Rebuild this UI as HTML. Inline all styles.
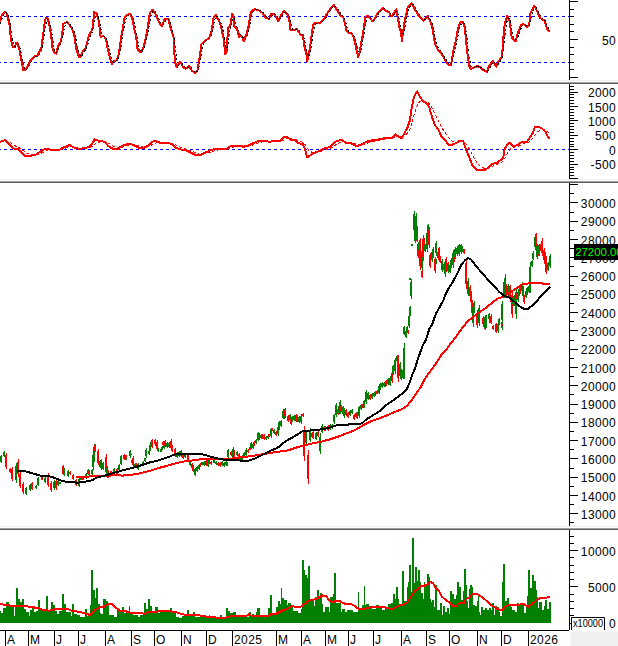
<!DOCTYPE html>
<html><head><meta charset="utf-8"><style>
html,body{margin:0;padding:0;background:#fff;overflow:hidden;}
svg{display:block;}
</style></head><body>
<svg width="618" height="646" viewBox="0 0 618 646">
<rect x="0" y="0" width="618" height="646" fill="#fff"/>
<rect x="0" y="80" width="618" height="1" fill="#f0f0f0"/>
<rect x="0" y="82" width="618" height="1" fill="#a0a0a0"/>
<rect x="0" y="83" width="618" height="1" fill="#5e5e5e"/>
<rect x="0" y="179" width="618" height="1" fill="#f0f0f0"/>
<rect x="0" y="181" width="618" height="1" fill="#a0a0a0"/>
<rect x="0" y="182" width="618" height="1" fill="#5e5e5e"/>
<rect x="0" y="526" width="618" height="1" fill="#f0f0f0"/>
<rect x="0" y="528" width="618" height="1" fill="#a0a0a0"/>
<rect x="0" y="529" width="618" height="1" fill="#5e5e5e"/>
<rect x="569" y="631" width="49" height="15" fill="#f7f7f7"/>
<rect x="571" y="632" width="47" height="14" fill="#efefef"/>
<rect x="569" y="0" width="1" height="80" fill="#000"/>
<rect x="569" y="84" width="1" height="95" fill="#000"/>
<rect x="569" y="183" width="1" height="343" fill="#000"/>
<rect x="569" y="530" width="1" height="100" fill="#000"/>
<rect x="0" y="630" width="569" height="1" fill="#000"/>
<rect x="570" y="77" width="8" height="1" fill="#000"/>
<rect x="570" y="69" width="4" height="1" fill="#000"/>
<rect x="570" y="62" width="4" height="1" fill="#000"/>
<rect x="570" y="54" width="4" height="1" fill="#000"/>
<rect x="570" y="47" width="4" height="1" fill="#000"/>
<rect x="570" y="39" width="8" height="1" fill="#000"/>
<rect x="570" y="31" width="4" height="1" fill="#000"/>
<rect x="570" y="24" width="4" height="1" fill="#000"/>
<rect x="570" y="16" width="4" height="1" fill="#000"/>
<rect x="570" y="9" width="4" height="1" fill="#000"/>
<rect x="570" y="1" width="8" height="1" fill="#000"/>
<rect x="570" y="178" width="8" height="1" fill="#000"/>
<rect x="570" y="175" width="4" height="1" fill="#000"/>
<rect x="570" y="172" width="4" height="1" fill="#000"/>
<rect x="570" y="169" width="4" height="1" fill="#000"/>
<rect x="570" y="167" width="4" height="1" fill="#000"/>
<rect x="570" y="164" width="8" height="1" fill="#000"/>
<rect x="570" y="161" width="4" height="1" fill="#000"/>
<rect x="570" y="158" width="4" height="1" fill="#000"/>
<rect x="570" y="155" width="4" height="1" fill="#000"/>
<rect x="570" y="152" width="4" height="1" fill="#000"/>
<rect x="570" y="149" width="8" height="1" fill="#000"/>
<rect x="570" y="146" width="4" height="1" fill="#000"/>
<rect x="570" y="144" width="4" height="1" fill="#000"/>
<rect x="570" y="141" width="4" height="1" fill="#000"/>
<rect x="570" y="138" width="4" height="1" fill="#000"/>
<rect x="570" y="135" width="8" height="1" fill="#000"/>
<rect x="570" y="132" width="4" height="1" fill="#000"/>
<rect x="570" y="129" width="4" height="1" fill="#000"/>
<rect x="570" y="126" width="4" height="1" fill="#000"/>
<rect x="570" y="123" width="4" height="1" fill="#000"/>
<rect x="570" y="120" width="8" height="1" fill="#000"/>
<rect x="570" y="118" width="4" height="1" fill="#000"/>
<rect x="570" y="115" width="4" height="1" fill="#000"/>
<rect x="570" y="112" width="4" height="1" fill="#000"/>
<rect x="570" y="109" width="4" height="1" fill="#000"/>
<rect x="570" y="106" width="8" height="1" fill="#000"/>
<rect x="570" y="103" width="4" height="1" fill="#000"/>
<rect x="570" y="100" width="4" height="1" fill="#000"/>
<rect x="570" y="97" width="4" height="1" fill="#000"/>
<rect x="570" y="94" width="4" height="1" fill="#000"/>
<rect x="570" y="92" width="8" height="1" fill="#000"/>
<rect x="570" y="89" width="4" height="1" fill="#000"/>
<rect x="570" y="86" width="4" height="1" fill="#000"/>
<rect x="570" y="184" width="8" height="1" fill="#000"/>
<rect x="570" y="193" width="4" height="1" fill="#000"/>
<rect x="570" y="202" width="8" height="1" fill="#000"/>
<rect x="570" y="212" width="4" height="1" fill="#000"/>
<rect x="570" y="221" width="8" height="1" fill="#000"/>
<rect x="570" y="230" width="4" height="1" fill="#000"/>
<rect x="570" y="239" width="8" height="1" fill="#000"/>
<rect x="570" y="248" width="4" height="1" fill="#000"/>
<rect x="570" y="257" width="8" height="1" fill="#000"/>
<rect x="570" y="266" width="4" height="1" fill="#000"/>
<rect x="570" y="276" width="8" height="1" fill="#000"/>
<rect x="570" y="285" width="4" height="1" fill="#000"/>
<rect x="570" y="294" width="8" height="1" fill="#000"/>
<rect x="570" y="303" width="4" height="1" fill="#000"/>
<rect x="570" y="312" width="8" height="1" fill="#000"/>
<rect x="570" y="321" width="4" height="1" fill="#000"/>
<rect x="570" y="330" width="8" height="1" fill="#000"/>
<rect x="570" y="340" width="4" height="1" fill="#000"/>
<rect x="570" y="349" width="8" height="1" fill="#000"/>
<rect x="570" y="358" width="4" height="1" fill="#000"/>
<rect x="570" y="367" width="8" height="1" fill="#000"/>
<rect x="570" y="376" width="4" height="1" fill="#000"/>
<rect x="570" y="385" width="8" height="1" fill="#000"/>
<rect x="570" y="394" width="4" height="1" fill="#000"/>
<rect x="570" y="404" width="8" height="1" fill="#000"/>
<rect x="570" y="413" width="4" height="1" fill="#000"/>
<rect x="570" y="422" width="8" height="1" fill="#000"/>
<rect x="570" y="431" width="4" height="1" fill="#000"/>
<rect x="570" y="440" width="8" height="1" fill="#000"/>
<rect x="570" y="449" width="4" height="1" fill="#000"/>
<rect x="570" y="458" width="8" height="1" fill="#000"/>
<rect x="570" y="468" width="4" height="1" fill="#000"/>
<rect x="570" y="477" width="8" height="1" fill="#000"/>
<rect x="570" y="486" width="4" height="1" fill="#000"/>
<rect x="570" y="495" width="8" height="1" fill="#000"/>
<rect x="570" y="504" width="4" height="1" fill="#000"/>
<rect x="570" y="513" width="8" height="1" fill="#000"/>
<rect x="570" y="522" width="4" height="1" fill="#000"/>
<rect x="570" y="623" width="8" height="1" fill="#000"/>
<rect x="570" y="615" width="4" height="1" fill="#000"/>
<rect x="570" y="608" width="4" height="1" fill="#000"/>
<rect x="570" y="601" width="4" height="1" fill="#000"/>
<rect x="570" y="594" width="4" height="1" fill="#000"/>
<rect x="570" y="586" width="8" height="1" fill="#000"/>
<rect x="570" y="579" width="4" height="1" fill="#000"/>
<rect x="570" y="572" width="4" height="1" fill="#000"/>
<rect x="570" y="565" width="4" height="1" fill="#000"/>
<rect x="570" y="557" width="4" height="1" fill="#000"/>
<rect x="570" y="550" width="8" height="1" fill="#000"/>
<rect x="570" y="543" width="4" height="1" fill="#000"/>
<rect x="570" y="536" width="4" height="1" fill="#000"/>
<text x="616.2" y="44.5" text-anchor="end" font-family="Liberation Sans, sans-serif" font-size="12" letter-spacing="0.4" fill="#000">50</text>
<text x="616.2" y="97.1" text-anchor="end" font-family="Liberation Sans, sans-serif" font-size="12" letter-spacing="0.4" fill="#000">2000</text>
<text x="616.2" y="111.5" text-anchor="end" font-family="Liberation Sans, sans-serif" font-size="12" letter-spacing="0.4" fill="#000">1500</text>
<text x="616.2" y="126.0" text-anchor="end" font-family="Liberation Sans, sans-serif" font-size="12" letter-spacing="0.4" fill="#000">1000</text>
<text x="616.2" y="140.4" text-anchor="end" font-family="Liberation Sans, sans-serif" font-size="12" letter-spacing="0.4" fill="#000">500</text>
<text x="616.2" y="154.8" text-anchor="end" font-family="Liberation Sans, sans-serif" font-size="12" letter-spacing="0.4" fill="#000">0</text>
<text x="616.2" y="169.2" text-anchor="end" font-family="Liberation Sans, sans-serif" font-size="12" letter-spacing="0.4" fill="#000">-500</text>
<text x="616.2" y="207.9" text-anchor="end" font-family="Liberation Sans, sans-serif" font-size="12" letter-spacing="0.4" fill="#000">30000</text>
<text x="616.2" y="226.2" text-anchor="end" font-family="Liberation Sans, sans-serif" font-size="12" letter-spacing="0.4" fill="#000">29000</text>
<text x="616.2" y="244.5" text-anchor="end" font-family="Liberation Sans, sans-serif" font-size="12" letter-spacing="0.4" fill="#000">28000</text>
<text x="616.2" y="262.8" text-anchor="end" font-family="Liberation Sans, sans-serif" font-size="12" letter-spacing="0.4" fill="#000">27000</text>
<text x="616.2" y="281.1" text-anchor="end" font-family="Liberation Sans, sans-serif" font-size="12" letter-spacing="0.4" fill="#000">26000</text>
<text x="616.2" y="299.4" text-anchor="end" font-family="Liberation Sans, sans-serif" font-size="12" letter-spacing="0.4" fill="#000">25000</text>
<text x="616.2" y="317.6" text-anchor="end" font-family="Liberation Sans, sans-serif" font-size="12" letter-spacing="0.4" fill="#000">24000</text>
<text x="616.2" y="335.9" text-anchor="end" font-family="Liberation Sans, sans-serif" font-size="12" letter-spacing="0.4" fill="#000">23000</text>
<text x="616.2" y="354.2" text-anchor="end" font-family="Liberation Sans, sans-serif" font-size="12" letter-spacing="0.4" fill="#000">22000</text>
<text x="616.2" y="372.5" text-anchor="end" font-family="Liberation Sans, sans-serif" font-size="12" letter-spacing="0.4" fill="#000">21000</text>
<text x="616.2" y="390.8" text-anchor="end" font-family="Liberation Sans, sans-serif" font-size="12" letter-spacing="0.4" fill="#000">20000</text>
<text x="616.2" y="409.1" text-anchor="end" font-family="Liberation Sans, sans-serif" font-size="12" letter-spacing="0.4" fill="#000">19000</text>
<text x="616.2" y="427.4" text-anchor="end" font-family="Liberation Sans, sans-serif" font-size="12" letter-spacing="0.4" fill="#000">18000</text>
<text x="616.2" y="445.7" text-anchor="end" font-family="Liberation Sans, sans-serif" font-size="12" letter-spacing="0.4" fill="#000">17000</text>
<text x="616.2" y="464.0" text-anchor="end" font-family="Liberation Sans, sans-serif" font-size="12" letter-spacing="0.4" fill="#000">16000</text>
<text x="616.2" y="482.2" text-anchor="end" font-family="Liberation Sans, sans-serif" font-size="12" letter-spacing="0.4" fill="#000">15000</text>
<text x="616.2" y="500.5" text-anchor="end" font-family="Liberation Sans, sans-serif" font-size="12" letter-spacing="0.4" fill="#000">14000</text>
<text x="616.2" y="518.8" text-anchor="end" font-family="Liberation Sans, sans-serif" font-size="12" letter-spacing="0.4" fill="#000">13000</text>
<text x="616.2" y="555.6" text-anchor="end" font-family="Liberation Sans, sans-serif" font-size="12" letter-spacing="0.4" fill="#000">10000</text>
<text x="616.2" y="591.9" text-anchor="end" font-family="Liberation Sans, sans-serif" font-size="12" letter-spacing="0.4" fill="#000">5000</text>
<rect x="5" y="630" width="1" height="16" fill="#000"/>
<text x="7" y="644" font-family="Liberation Sans, sans-serif" font-size="12" letter-spacing="0.4" fill="#000">A</text>
<rect x="28" y="630" width="1" height="16" fill="#000"/>
<text x="30" y="644" font-family="Liberation Sans, sans-serif" font-size="12" letter-spacing="0.4" fill="#000">M</text>
<rect x="54" y="630" width="1" height="16" fill="#000"/>
<text x="56" y="644" font-family="Liberation Sans, sans-serif" font-size="12" letter-spacing="0.4" fill="#000">J</text>
<rect x="78" y="630" width="1" height="16" fill="#000"/>
<text x="80" y="644" font-family="Liberation Sans, sans-serif" font-size="12" letter-spacing="0.4" fill="#000">J</text>
<rect x="105" y="630" width="1" height="16" fill="#000"/>
<text x="107" y="644" font-family="Liberation Sans, sans-serif" font-size="12" letter-spacing="0.4" fill="#000">A</text>
<rect x="131" y="630" width="1" height="16" fill="#000"/>
<text x="133" y="644" font-family="Liberation Sans, sans-serif" font-size="12" letter-spacing="0.4" fill="#000">S</text>
<rect x="154" y="630" width="1" height="16" fill="#000"/>
<text x="156" y="644" font-family="Liberation Sans, sans-serif" font-size="12" letter-spacing="0.4" fill="#000">O</text>
<rect x="181" y="630" width="1" height="16" fill="#000"/>
<text x="183" y="644" font-family="Liberation Sans, sans-serif" font-size="12" letter-spacing="0.4" fill="#000">N</text>
<rect x="206" y="630" width="1" height="16" fill="#000"/>
<text x="208" y="644" font-family="Liberation Sans, sans-serif" font-size="12" letter-spacing="0.4" fill="#000">D</text>
<rect x="232" y="630" width="1" height="16" fill="#000"/>
<text x="234" y="644" font-family="Liberation Sans, sans-serif" font-size="12" letter-spacing="0.4" fill="#000">2025</text>
<rect x="276" y="630" width="1" height="16" fill="#000"/>
<text x="278" y="644" font-family="Liberation Sans, sans-serif" font-size="12" letter-spacing="0.4" fill="#000">M</text>
<rect x="301" y="630" width="1" height="16" fill="#000"/>
<text x="303" y="644" font-family="Liberation Sans, sans-serif" font-size="12" letter-spacing="0.4" fill="#000">A</text>
<rect x="325" y="630" width="1" height="16" fill="#000"/>
<text x="327" y="644" font-family="Liberation Sans, sans-serif" font-size="12" letter-spacing="0.4" fill="#000">M</text>
<rect x="348" y="630" width="1" height="16" fill="#000"/>
<text x="350" y="644" font-family="Liberation Sans, sans-serif" font-size="12" letter-spacing="0.4" fill="#000">J</text>
<rect x="373" y="630" width="1" height="16" fill="#000"/>
<text x="375" y="644" font-family="Liberation Sans, sans-serif" font-size="12" letter-spacing="0.4" fill="#000">J</text>
<rect x="401" y="630" width="1" height="16" fill="#000"/>
<text x="403" y="644" font-family="Liberation Sans, sans-serif" font-size="12" letter-spacing="0.4" fill="#000">A</text>
<rect x="426" y="630" width="1" height="16" fill="#000"/>
<text x="428" y="644" font-family="Liberation Sans, sans-serif" font-size="12" letter-spacing="0.4" fill="#000">S</text>
<rect x="449" y="630" width="1" height="16" fill="#000"/>
<text x="451" y="644" font-family="Liberation Sans, sans-serif" font-size="12" letter-spacing="0.4" fill="#000">O</text>
<rect x="477" y="630" width="1" height="16" fill="#000"/>
<text x="479" y="644" font-family="Liberation Sans, sans-serif" font-size="12" letter-spacing="0.4" fill="#000">N</text>
<rect x="501" y="630" width="1" height="16" fill="#000"/>
<text x="503" y="644" font-family="Liberation Sans, sans-serif" font-size="12" letter-spacing="0.4" fill="#000">D</text>
<rect x="528" y="630" width="1" height="16" fill="#000"/>
<text x="530" y="644" font-family="Liberation Sans, sans-serif" font-size="12" letter-spacing="0.4" fill="#000">2026</text>
<svg x="0" y="0" width="569" height="80" overflow="hidden">
<line x1="0" y1="16.5" x2="569" y2="16.5" stroke="#0000ff" stroke-width="1" stroke-dasharray="3 3" stroke-dashoffset="2"/>
<line x1="0" y1="62.5" x2="569" y2="62.5" stroke="#0000ff" stroke-width="1" stroke-dasharray="3 3" stroke-dashoffset="2"/>
<polyline points="0.0,23.5 0.8,17.5 2.2,14.5 5.2,11.7 6.5,13.0 9.7,25.9 11.0,40.0 12.9,47.2 14.9,47.2 16.2,42.7 17.5,43.4 19.4,49.2 21.4,60.8 23.3,69.9 24.6,70.5 27.2,67.3 31.1,59.5 35.0,55.7 37.5,55.7 41.4,47.9 43.4,32.4 44.7,22.0 46.0,17.5 47.2,17.5 49.2,24.0 51.1,35.0 52.4,47.9 53.7,51.8 56.3,53.7 58.3,45.3 60.8,41.4 62.1,35.0 63.2,24.0 66.7,22.0 68.6,24.0 71.8,27.8 74.4,36.2 76.4,49.2 79.0,57.0 80.6,57.0 82.6,51.8 85.8,47.9 89.1,35.0 92.3,29.8 94.2,12.3 96.2,12.9 98.8,20.7 100.7,37.5 103.3,35.6 105.9,38.8 107.8,49.2 109.8,57.0 111.7,64.0 113.7,61.5 116.9,60.2 118.8,54.4 121.4,36.2 124.7,16.8 126.6,15.5 129.8,13.6 131.8,16.8 134.4,29.8 136.3,36.2 137.0,47.9 139.5,51.8 140.8,52.4 143.4,47.9 146.0,37.5 148.0,25.9 149.9,12.9 152.5,9.7 155.1,12.9 158.3,20.7 160.0,24.0 161.9,25.9 164.5,19.4 168.4,18.8 171.0,29.8 173.6,37.5 174.2,51.8 175.5,63.4 176.8,67.3 180.1,61.5 183.3,67.3 185.9,68.6 189.1,66.0 191.7,70.5 195.0,73.1 197.5,69.9 199.5,58.3 201.4,44.0 206.0,40.1 209.2,38.2 211.8,29.8 213.7,16.8 215.7,14.9 220.2,23.3 223.4,37.5 225.4,54.4 226.7,51.8 228.0,28.5 230.5,24.6 232.2,13.6 233.5,16.8 234.4,26.5 237.0,28.5 239.0,36.9 240.0,35.0 241.9,36.9 243.9,41.4 246.5,33.7 248.4,27.2 251.0,11.7 254.9,9.1 258.8,10.4 262.7,12.9 265.2,17.5 269.1,18.8 271.1,14.2 274.3,13.6 278.2,21.4 280.8,15.5 284.0,11.0 287.2,14.2 289.2,19.4 290.5,29.8 294.4,29.8 297.0,29.1 300.8,35.0 302.8,35.0 304.7,47.9 306.7,55.7 307.0,61.5 308.3,57.0 310.5,44.0 313.1,24.6 315.1,23.3 319.0,23.3 320.0,22.7 324.5,18.1 329.1,10.4 333.6,4.9 336.8,9.7 340.7,15.5 343.3,17.5 345.2,24.6 346.5,30.4 348.5,33.0 351.1,33.0 353.7,36.9 355.0,42.7 356.9,51.8 358.2,57.0 359.5,53.1 361.4,41.4 363.4,31.1 365.3,18.1 367.2,15.5 369.8,17.5 372.4,21.4 374.4,19.4 377.6,12.9 380.2,11.0 383.4,7.8 386.0,11.0 389.3,12.3 390.5,16.2 391.8,16.2 394.4,12.3 396.4,9.1 397.7,16.8 399.6,28.5 401.0,32.4 401.9,40.8 403.2,31.1 404.5,22.0 406.5,12.9 407.8,7.1 411.7,3.2 415.5,10.4 419.4,16.8 423.3,20.7 427.8,16.2 431.1,23.3 433.0,31.1 435.0,44.0 437.5,49.2 441.4,53.1 443.4,57.0 446.0,62.1 449.2,65.4 451.1,64.7 453.1,51.8 455.7,41.4 458.3,27.2 460.8,22.0 462.8,22.0 464.7,27.2 466.0,40.1 468.0,58.3 469.9,68.6 471.8,68.6 474.4,67.3 477.7,66.0 480.0,67.3 483.2,69.9 487.1,71.8 489.1,66.0 492.9,60.8 496.2,66.7 498.8,60.8 502.0,57.0 503.3,38.8 504.6,24.6 507.2,15.5 509.8,22.0 511.7,37.5 515.6,41.4 517.5,33.7 521.4,24.6 523.4,24.0 527.2,27.2 529.2,24.6 530.5,12.9 534.4,5.8 537.0,11.0 540.2,18.1 544.7,20.7 547.3,29.8 549.9,31.7" fill="none" stroke="#ff0000" stroke-width="2" stroke-linejoin="round" shape-rendering="crispEdges"/>
<polyline points="0.0,23.5 1.2,20.0 2.5,18.1 3.7,14.6 4.9,13.1 6.2,12.6 7.4,13.7 8.6,16.9 9.8,21.8 11.1,29.7 12.3,37.5 13.5,44.1 14.8,46.4 16.0,45.9 17.2,44.6 18.5,44.3 19.7,46.8 20.9,51.7 22.1,57.7 23.4,64.1 24.6,68.3 25.8,69.8 27.1,69.0 28.3,67.2 29.5,65.1 30.8,62.7 32.0,60.5 33.2,58.8 34.4,57.4 35.7,56.5 36.9,55.9 38.1,55.3 39.4,54.0 40.6,52.0 41.8,48.7 43.0,43.1 44.3,35.0 45.5,26.6 46.7,20.7 48.0,18.9 49.2,20.5 50.4,25.0 51.7,31.9 52.9,40.3 54.1,47.3 55.3,51.5 56.6,52.5 57.8,51.0 59.0,48.0 60.3,44.6 61.5,41.4 62.7,36.3 64.0,30.1 65.2,25.0 66.4,22.9 67.6,22.7 68.9,23.2 70.1,24.4 71.3,25.8 72.6,27.8 73.8,30.6 75.0,34.9 76.3,40.9 77.5,47.0 78.7,52.3 79.9,55.2 81.2,56.2 82.4,54.9 83.6,52.8 84.9,50.6 86.1,48.8 87.3,45.9 88.6,41.9 89.8,37.6 91.0,34.3 92.3,31.9 93.5,26.9 94.7,20.4 95.9,14.7 97.2,13.7 98.4,16.0 99.6,21.1 100.9,28.3 102.1,34.0 103.3,36.5 104.6,36.4 105.8,37.1 107.0,40.2 108.2,44.8 109.5,50.5 110.7,55.6 111.9,59.9 113.2,62.1 114.4,62.4 115.6,61.4 116.9,60.7 118.1,59.2 119.3,55.9 120.5,49.9 121.8,42.4 123.0,34.3 124.2,26.8 125.5,20.9 126.7,17.1 127.9,15.5 129.2,14.7 130.4,14.4 131.6,15.0 132.8,17.7 134.1,22.2 135.3,27.7 136.5,33.7 137.8,40.7 139.0,46.7 140.2,50.7 141.5,51.5 142.7,50.9 143.9,48.8 145.1,45.3 146.4,40.7 147.6,34.8 148.8,27.9 150.1,20.4 151.3,14.7 152.5,11.2 153.7,10.7 155.0,11.2 156.2,13.2 157.4,15.7 158.7,18.5 159.9,21.3 161.1,23.5 162.4,24.6 163.6,23.9 164.8,21.9 166.0,20.1 167.3,19.2 168.5,19.1 169.7,20.9 171.0,24.5 172.2,29.2 173.4,33.3 174.7,42.1 175.9,52.5 177.1,62.4 178.3,65.3 179.6,64.6 180.8,63.3 182.0,63.4 183.3,65.0 184.5,66.7 185.7,67.9 187.0,68.1 188.2,67.7 189.4,67.0 190.6,67.3 191.9,68.6 193.1,70.3 194.3,71.6 195.6,72.2 196.8,71.9 198.0,70.0 199.3,65.8 200.5,59.1 201.7,51.4 202.9,45.8 204.2,42.7 205.4,41.6 206.6,40.7 207.9,39.8 209.1,39.0 210.3,37.3 211.6,34.5 212.8,29.4 214.0,23.4 215.2,18.3 216.5,16.1 217.7,16.8 218.9,18.7 220.2,20.9 221.4,24.3 222.6,28.7 223.9,34.7 225.1,42.4 226.3,48.6 227.5,47.0 228.8,38.8 230.0,29.7 231.2,24.2 232.5,19.8 233.7,17.7 234.9,20.0 236.2,24.6 237.4,28.3 238.6,31.1 239.8,33.6 241.1,35.6 242.3,36.4 243.5,38.2 244.8,39.1 246.0,38.2 247.2,35.1 248.5,31.1 249.7,25.9 250.9,19.5 252.1,14.2 253.4,11.1 254.6,10.1 255.8,9.6 257.1,9.5 258.3,9.8 259.5,10.3 260.8,10.9 262.0,11.7 263.2,12.7 264.4,14.1 265.7,15.9 266.9,17.3 268.1,18.1 269.4,18.2 270.6,17.3 271.8,15.9 273.1,14.4 274.3,13.8 275.5,14.5 276.7,16.0 278.0,18.5 279.2,19.5 280.4,18.8 281.7,16.6 282.9,14.4 284.1,12.7 285.4,12.0 286.6,12.4 287.8,13.9 289.0,16.1 290.3,21.0 291.5,25.6 292.7,29.2 294.0,29.8 295.2,29.7 296.4,29.5 297.7,29.7 298.9,30.5 300.1,32.0 301.3,33.7 302.6,34.6 303.8,37.3 305.0,42.0 306.3,48.4 307.5,54.3 308.7,56.1 310.0,53.8 311.2,46.8 312.4,38.6 313.6,30.9 314.9,25.8 316.1,23.7 317.3,23.3 318.6,23.3 319.8,23.1 321.0,22.6 322.3,21.6 323.5,20.4 324.7,19.1 326.0,17.5 327.2,15.7 328.4,13.6 329.6,11.6 330.9,9.8 332.1,8.2 333.3,6.7 334.6,6.1 335.8,6.6 337.0,8.2 338.3,10.0 339.5,11.9 340.7,13.7 341.9,15.2 343.2,16.5 344.4,18.5 345.6,21.8 346.9,26.3 348.1,30.0 349.3,32.1 350.6,32.8 351.8,33.3 353.0,34.3 354.2,36.4 355.5,40.0 356.7,45.0 357.9,50.6 359.2,53.6 360.4,52.6 361.6,47.3 362.9,40.6 364.1,33.5 365.3,26.2 366.5,20.3 367.8,16.8 369.0,16.4 370.2,17.0 371.5,18.3 372.7,19.7 373.9,20.3 375.2,19.6 376.4,17.7 377.6,15.4 378.8,13.4 380.1,12.0 381.3,11.0 382.5,9.9 383.8,8.9 385.0,8.9 386.2,9.7 387.5,10.8 388.7,11.6 389.9,12.6 391.1,14.2 392.4,15.3 393.6,15.0 394.8,13.5 396.1,11.6 397.3,11.9 398.5,15.3 399.8,21.7 401.0,27.7 402.2,33.2 403.4,33.4 404.7,29.7 405.9,22.1 407.1,15.6 408.4,10.8 409.6,7.3 410.8,5.3 412.1,4.4 413.3,4.7 414.5,6.2 415.7,8.5 417.0,10.7 418.2,12.8 419.4,14.8 420.7,16.6 421.9,18.1 423.1,19.3 424.4,19.8 425.6,19.5 426.8,18.4 428.0,17.4 429.3,17.8 430.5,19.4 431.7,22.4 433.0,26.3 434.2,31.9 435.4,38.2 436.7,43.7 437.9,47.3 439.1,49.3 440.3,50.8 441.6,52.1 442.8,53.8 444.0,55.8 445.3,58.2 446.5,60.5 447.7,62.4 449.0,63.9 450.2,64.7 451.4,64.3 452.6,60.8 453.9,55.4 455.1,49.1 456.3,43.5 457.6,37.7 458.8,31.8 460.0,27.0 461.3,23.9 462.5,22.5 463.7,22.8 464.9,25.4 466.2,31.9 467.4,41.4 468.6,52.1 469.9,61.0 471.1,66.2 472.3,68.4 473.6,68.2 474.8,67.7 476.0,67.2 477.2,66.7 478.5,66.4 479.7,66.6 480.9,67.2 482.2,68.1 483.4,69.0 484.6,69.9 485.9,70.6 487.1,71.2 488.3,70.4 489.5,68.5 490.8,65.8 492.0,63.7 493.2,62.4 494.5,62.3 495.7,63.6 496.9,64.8 498.2,64.4 499.4,62.5 500.6,60.3 501.8,58.7 503.1,52.6 504.3,42.4 505.5,30.4 506.8,22.1 508.0,18.6 509.2,18.4 510.5,21.8 511.7,28.4 512.9,34.4 514.1,38.7 515.4,39.9 516.6,39.5 517.8,37.1 519.1,33.4 520.3,30.1 521.5,27.3 522.8,25.3 524.0,24.4 525.2,24.7 526.4,25.5 527.7,26.2 528.9,26.0 530.1,22.6 531.4,17.5 532.6,12.2 533.8,9.1 535.1,7.7 536.3,7.8 537.5,9.6 538.7,12.2 540.0,14.9 541.2,17.0 542.4,18.6 543.7,19.4 544.9,20.3 546.1,22.4 547.4,25.6 548.6,28.7 549.8,30.7" fill="none" stroke="#000" stroke-width="1" stroke-dasharray="2 2" shape-rendering="crispEdges"/>
</svg>
<svg x="0" y="84" width="569" height="95" overflow="hidden"><g transform="translate(0,-84)">
<line x1="0" y1="149.5" x2="569" y2="149.5" stroke="#0000ff" stroke-width="1" stroke-dasharray="3 3" stroke-dashoffset="2"/>
<polyline points="0.0,141.8 1.2,141.7 2.5,141.6 3.7,141.4 4.9,141.1 6.2,141.2 7.4,141.4 8.6,141.8 9.8,142.3 11.1,143.1 12.3,144.0 13.5,144.9 14.8,145.6 16.0,146.3 17.2,146.8 18.5,147.4 19.7,148.1 20.9,149.0 22.1,149.9 23.4,150.8 24.6,151.7 25.8,152.6 27.1,153.4 28.3,153.9 29.5,154.3 30.8,154.6 32.0,154.8 33.2,154.9 34.4,154.9 35.7,154.8 36.9,154.6 38.1,154.3 39.4,153.9 40.6,153.5 41.8,152.9 43.0,152.3 44.3,151.7 45.5,151.2 46.7,150.8 48.0,150.4 49.2,150.2 50.4,150.1 51.7,150.1 52.9,150.1 54.1,150.1 55.3,150.1 56.6,150.1 57.8,150.1 59.0,150.0 60.3,149.9 61.5,149.6 62.7,149.3 64.0,148.9 65.2,148.4 66.4,148.0 67.6,147.6 68.9,147.1 70.1,146.8 71.3,146.6 72.6,146.7 73.8,146.8 75.0,147.1 76.3,147.4 77.5,147.6 78.7,147.8 79.9,148.0 81.2,148.1 82.4,148.2 83.6,148.2 84.9,148.2 86.1,148.1 87.3,148.0 88.6,147.8 89.8,147.5 91.0,147.0 92.3,146.3 93.5,145.3 94.7,144.1 95.9,143.2 97.2,142.6 98.4,142.2 99.6,142.0 100.9,141.8 102.1,141.7 103.3,141.7 104.6,141.7 105.8,141.9 107.0,142.5 108.2,143.2 109.5,143.9 110.7,144.6 111.9,145.3 113.2,146.0 114.4,146.6 115.6,147.0 116.9,147.4 118.1,147.6 119.3,147.7 120.5,147.5 121.8,147.3 123.0,146.9 124.2,146.5 125.5,146.2 126.7,145.8 127.9,145.4 129.2,145.0 130.4,144.8 131.6,144.7 132.8,144.7 134.1,144.8 135.3,145.0 136.5,145.3 137.8,145.7 139.0,146.1 140.2,146.5 141.5,146.7 142.7,146.9 143.9,147.1 145.1,147.1 146.4,147.0 147.6,146.8 148.8,146.4 150.1,145.8 151.3,145.1 152.5,144.4 153.7,143.8 155.0,143.3 156.2,142.9 157.4,142.6 158.7,142.5 159.9,142.6 161.1,142.6 162.4,142.6 163.6,142.6 164.8,142.6 166.0,142.7 167.3,142.7 168.5,142.7 169.7,142.9 171.0,143.1 172.2,143.3 173.4,143.8 174.7,144.5 175.9,145.1 177.1,145.7 178.3,146.3 179.6,146.8 180.8,147.3 182.0,147.8 183.3,148.2 184.5,148.6 185.7,149.0 187.0,149.4 188.2,149.8 189.4,150.2 190.6,150.7 191.9,151.2 193.1,151.7 194.3,152.3 195.6,152.9 196.8,153.3 198.0,153.7 199.3,154.1 200.5,154.2 201.7,154.3 202.9,154.2 204.2,154.0 205.4,153.7 206.6,153.3 207.9,152.9 209.1,152.5 210.3,152.1 211.6,151.7 212.8,151.3 214.0,150.9 215.2,150.5 216.5,150.2 217.7,150.0 218.9,149.8 220.2,149.7 221.4,149.6 222.6,149.6 223.9,149.6 225.1,149.5 226.3,149.4 227.5,149.1 228.8,148.7 230.0,148.3 231.2,147.8 232.5,147.4 233.7,147.1 234.9,146.8 236.2,146.6 237.4,146.4 238.6,146.3 239.8,146.3 241.1,146.3 242.3,146.3 243.5,146.4 244.8,146.4 246.0,146.4 247.2,146.3 248.5,146.1 249.7,145.9 250.9,145.6 252.1,145.2 253.4,144.8 254.6,144.4 255.8,143.9 257.1,143.5 258.3,143.0 259.5,142.5 260.8,142.2 262.0,141.9 263.2,141.7 264.4,141.6 265.7,141.5 266.9,141.5 268.1,141.5 269.4,141.5 270.6,141.5 271.8,141.5 273.1,141.4 274.3,141.4 275.5,141.3 276.7,141.3 278.0,141.3 279.2,141.4 280.4,141.2 281.7,140.8 282.9,140.3 284.1,139.6 285.4,139.1 286.6,138.8 287.8,138.6 289.0,138.6 290.3,138.8 291.5,139.0 292.7,139.2 294.0,139.4 295.2,139.6 296.4,140.0 297.7,140.5 298.9,141.0 300.1,141.5 301.3,141.9 302.6,142.3 303.8,143.2 305.0,144.5 306.3,146.3 307.5,148.5 308.7,150.1 310.0,151.2 311.2,151.9 312.4,152.3 313.6,152.5 314.9,152.6 316.1,152.5 317.3,152.4 318.6,152.1 319.8,151.8 321.0,151.5 322.3,151.0 323.5,150.6 324.7,150.1 326.0,149.7 327.2,149.3 328.4,148.9 329.6,148.6 330.9,148.1 332.1,147.4 333.3,146.6 334.6,145.7 335.8,144.9 337.0,144.1 338.3,143.4 339.5,142.8 340.7,142.2 341.9,141.8 343.2,141.6 344.4,141.6 345.6,141.8 346.9,142.0 348.1,142.1 349.3,142.3 350.6,142.5 351.8,142.7 353.0,143.0 354.2,143.4 355.5,143.8 356.7,144.3 357.9,144.6 359.2,144.7 360.4,144.8 361.6,144.7 362.9,144.5 364.1,144.3 365.3,143.9 366.5,143.5 367.8,143.0 369.0,142.7 370.2,142.3 371.5,141.9 372.7,141.6 373.9,141.3 375.2,141.0 376.4,140.8 377.6,140.5 378.8,140.3 380.1,140.1 381.3,139.9 382.5,139.6 383.8,139.4 385.0,139.2 386.2,139.0 387.5,138.8 388.7,138.7 389.9,138.6 391.1,138.5 392.4,138.3 393.6,137.8 394.8,137.3 396.1,136.8 397.3,136.6 398.5,136.6 399.8,136.7 401.0,136.9 402.2,137.0 403.4,136.6 404.7,135.8 405.9,134.8 407.1,133.5 408.4,131.8 409.6,129.7 410.8,126.5 412.1,122.5 413.3,118.0 414.5,113.6 415.7,109.7 417.0,106.1 418.2,103.5 419.4,102.0 420.7,101.2 421.9,100.8 423.1,100.9 424.4,101.1 425.6,101.5 426.8,101.8 428.0,102.5 429.3,103.5 430.5,105.1 431.7,107.3 433.0,109.8 434.2,112.4 435.4,115.1 436.7,117.5 437.9,119.8 439.1,122.1 440.3,124.4 441.6,126.9 442.8,129.1 444.0,131.1 445.3,133.0 446.5,134.8 447.7,136.5 449.0,138.1 450.2,139.4 451.4,140.5 452.6,141.3 453.9,141.8 455.1,142.2 456.3,142.3 457.6,142.3 458.8,142.1 460.0,141.9 461.3,141.7 462.5,141.7 463.7,141.8 464.9,142.7 466.2,144.1 467.4,145.8 468.6,147.8 469.9,150.1 471.1,152.5 472.3,155.0 473.6,157.3 474.8,159.3 476.0,161.3 477.2,163.1 478.5,164.5 479.7,165.7 480.9,166.7 482.2,167.4 483.4,168.0 484.6,168.4 485.9,168.5 487.1,168.5 488.3,168.3 489.5,167.9 490.8,167.3 492.0,166.6 493.2,166.0 494.5,165.5 495.7,165.1 496.9,164.6 498.2,164.1 499.4,163.5 500.6,162.8 501.8,162.0 503.1,161.1 504.3,159.1 505.5,156.8 506.8,154.5 508.0,152.4 509.2,150.6 510.5,149.0 511.7,148.1 512.9,147.7 514.1,147.3 515.4,147.0 516.6,146.7 517.8,146.3 519.1,145.8 520.3,145.3 521.5,144.7 522.8,144.2 524.0,143.8 525.2,143.5 526.4,143.3 527.7,142.8 528.9,142.0 530.1,141.1 531.4,140.0 532.6,138.6 533.8,136.9 535.1,135.0 536.3,133.3 537.5,132.0 538.7,131.1 540.0,130.4 541.2,129.9 542.4,129.7 543.7,129.8 544.9,130.1 546.1,130.7 547.4,131.7 548.6,132.8 549.8,134.0" fill="none" stroke="#ff0000" stroke-width="1" stroke-dasharray="3 2" shape-rendering="crispEdges"/>
<polyline points="0.0,141.8 4.9,140.2 8.9,143.5 12.9,148.3 17.8,149.1 21.8,153.2 25.9,156.4 30.7,155.9 36.4,154.3 40.5,151.6 44.5,149.1 48.5,149.1 53.4,150.4 59.9,149.6 63.9,147.2 69.6,145.1 75.2,148.3 80.9,148.8 87.4,147.5 90.6,145.9 94.7,139.4 98.7,140.7 100.0,141.0 104.9,141.8 108.1,145.9 112.9,148.8 117.8,148.8 122.7,145.6 129.1,143.5 134.0,145.1 138.8,147.8 143.7,147.8 147.7,145.9 151.8,141.8 155.8,141.0 159.9,142.7 168.0,142.7 172.0,144.3 175.2,147.5 180.9,149.4 186.6,150.7 192.2,153.2 195.5,155.3 200.0,155.3 204.9,152.7 209.7,150.7 215.4,148.8 221.0,149.4 225.9,149.4 229.1,146.7 233.2,145.6 238.8,145.9 243.7,146.7 248.5,145.6 252.6,143.5 259.1,140.7 264.7,141.0 269.6,141.8 273.6,141.0 279.3,141.5 284.1,137.0 287.4,137.5 290.6,139.7 294.7,140.2 297.9,142.7 300.0,143.5 302.4,143.5 304.9,149.1 307.3,157.5 312.1,154.0 317.8,151.6 324.3,148.3 329.9,147.2 334.8,141.8 341.3,139.7 346.1,142.7 351.0,143.1 356.6,146.2 361.5,144.6 366.3,141.8 372.8,140.2 380.9,139.1 384.9,138.2 391.3,138.2 395.4,134.5 398.6,136.6 401.8,138.2 404.3,133.4 407.5,127.7 409.9,120.4 411.6,108.3 414.0,96.9 417.2,91.3 420.5,97.8 423.7,101.8 426.9,103.4 429.4,107.5 431.8,116.4 435.0,125.3 438.3,129.3 441.5,136.6 444.7,139.8 448.8,144.7 452.0,144.7 456.1,143.1 459.3,141.0 463.3,141.4 465.8,148.7 469.0,156.8 472.2,164.9 477.3,170.4 483.8,170.4 487.8,168.0 491.8,163.9 496.7,163.1 500.7,159.9 503.2,157.4 504.8,148.5 508.0,143.7 510.5,142.9 512.9,146.1 516.9,145.3 521.8,142.1 526.6,142.4 529.1,138.8 532.3,134.0 534.7,127.5 536.3,126.7 541.2,127.8 545.2,131.6 547.7,136.4 550.1,138.8" fill="none" stroke="#ff0000" stroke-width="2" stroke-linejoin="round" shape-rendering="crispEdges"/>
</g></svg>
<svg x="0" y="183" width="569" height="343" overflow="hidden"><g transform="translate(0,-183)">
<rect x="1" y="455" width="1" height="8" fill="#008000"/>
<rect x="0" y="456" width="2" height="6" fill="#008000"/>
<rect x="4" y="451" width="1" height="6" fill="#008000"/>
<rect x="3" y="452" width="2" height="4" fill="#008000"/>
<rect x="6" y="453" width="1" height="16" fill="#ff0000"/>
<rect x="5" y="455" width="2" height="12" fill="#ff0000"/>
<rect x="10" y="468" width="1" height="5" fill="#ff0000"/>
<rect x="9" y="469" width="2" height="3" fill="#ff0000"/>
<rect x="12" y="467" width="1" height="14" fill="#ff0000"/>
<rect x="11" y="469" width="2" height="10" fill="#ff0000"/>
<rect x="16" y="463" width="1" height="20" fill="#008000"/>
<rect x="15" y="466" width="2" height="14" fill="#008000"/>
<rect x="18" y="459" width="1" height="18" fill="#ff0000"/>
<rect x="17" y="462" width="2" height="12" fill="#ff0000"/>
<rect x="20" y="472" width="1" height="16" fill="#ff0000"/>
<rect x="19" y="474" width="2" height="12" fill="#ff0000"/>
<rect x="23" y="482" width="1" height="12" fill="#ff0000"/>
<rect x="22" y="484" width="2" height="8" fill="#ff0000"/>
<rect x="26" y="487" width="1" height="8" fill="#008000"/>
<rect x="25" y="488" width="2" height="6" fill="#008000"/>
<rect x="30" y="484" width="1" height="7" fill="#008000"/>
<rect x="29" y="485" width="2" height="5" fill="#008000"/>
<rect x="32" y="482" width="1" height="8" fill="#ff0000"/>
<rect x="31" y="483" width="2" height="6" fill="#ff0000"/>
<rect x="36" y="485" width="1" height="4" fill="#008000"/>
<rect x="35" y="486" width="2" height="2" fill="#008000"/>
<rect x="38" y="477" width="1" height="9" fill="#008000"/>
<rect x="37" y="478" width="2" height="7" fill="#008000"/>
<rect x="42" y="477" width="1" height="3" fill="#ff0000"/>
<rect x="41" y="477" width="2" height="3" fill="#ff0000"/>
<rect x="45" y="477" width="1" height="6" fill="#008000"/>
<rect x="44" y="478" width="2" height="4" fill="#008000"/>
<rect x="48" y="473" width="1" height="14" fill="#ff0000"/>
<rect x="47" y="475" width="2" height="10" fill="#ff0000"/>
<rect x="51" y="481" width="1" height="11" fill="#ff0000"/>
<rect x="50" y="483" width="2" height="7" fill="#ff0000"/>
<rect x="54" y="480" width="1" height="10" fill="#008000"/>
<rect x="53" y="482" width="2" height="6" fill="#008000"/>
<rect x="56" y="479" width="1" height="11" fill="#ff0000"/>
<rect x="55" y="481" width="2" height="7" fill="#ff0000"/>
<rect x="58" y="480" width="1" height="6" fill="#008000"/>
<rect x="57" y="481" width="2" height="4" fill="#008000"/>
<rect x="60" y="482" width="1" height="2" fill="#008000"/>
<rect x="59" y="482" width="2" height="2" fill="#008000"/>
<rect x="63" y="465" width="1" height="10" fill="#ff0000"/>
<rect x="62" y="466" width="2" height="8" fill="#ff0000"/>
<rect x="64" y="468" width="1" height="8" fill="#008000"/>
<rect x="63" y="469" width="2" height="6" fill="#008000"/>
<rect x="68" y="470" width="1" height="7" fill="#008000"/>
<rect x="67" y="471" width="2" height="5" fill="#008000"/>
<rect x="70" y="471" width="1" height="4" fill="#ff0000"/>
<rect x="69" y="472" width="2" height="2" fill="#ff0000"/>
<rect x="73" y="474" width="1" height="6" fill="#ff0000"/>
<rect x="72" y="475" width="2" height="4" fill="#ff0000"/>
<rect x="76" y="479" width="1" height="7" fill="#ff0000"/>
<rect x="75" y="480" width="2" height="5" fill="#ff0000"/>
<rect x="79" y="478" width="1" height="9" fill="#008000"/>
<rect x="78" y="479" width="2" height="7" fill="#008000"/>
<rect x="81" y="478" width="1" height="2" fill="#008000"/>
<rect x="80" y="478" width="2" height="2" fill="#008000"/>
<rect x="83" y="478" width="1" height="2" fill="#ff0000"/>
<rect x="82" y="478" width="2" height="2" fill="#ff0000"/>
<rect x="86" y="473" width="1" height="6" fill="#008000"/>
<rect x="85" y="474" width="2" height="4" fill="#008000"/>
<rect x="88" y="469" width="1" height="6" fill="#008000"/>
<rect x="87" y="470" width="2" height="4" fill="#008000"/>
<rect x="89" y="470" width="1" height="5" fill="#ff0000"/>
<rect x="88" y="471" width="2" height="3" fill="#ff0000"/>
<rect x="92" y="469" width="1" height="6" fill="#008000"/>
<rect x="91" y="470" width="2" height="4" fill="#008000"/>
<rect x="93" y="452" width="1" height="18" fill="#008000"/>
<rect x="92" y="455" width="2" height="12" fill="#008000"/>
<rect x="94" y="444" width="1" height="18" fill="#008000"/>
<rect x="93" y="447" width="2" height="12" fill="#008000"/>
<rect x="95" y="444" width="1" height="8" fill="#ff0000"/>
<rect x="94" y="445" width="2" height="6" fill="#ff0000"/>
<rect x="98" y="449" width="1" height="16" fill="#ff0000"/>
<rect x="97" y="451" width="2" height="12" fill="#ff0000"/>
<rect x="100" y="460" width="1" height="8" fill="#008000"/>
<rect x="99" y="461" width="2" height="6" fill="#008000"/>
<rect x="101" y="459" width="1" height="11" fill="#008000"/>
<rect x="100" y="461" width="2" height="7" fill="#008000"/>
<rect x="103" y="462" width="1" height="8" fill="#008000"/>
<rect x="102" y="463" width="2" height="6" fill="#008000"/>
<rect x="106" y="454" width="1" height="21" fill="#ff0000"/>
<rect x="105" y="457" width="2" height="15" fill="#ff0000"/>
<rect x="107" y="466" width="1" height="12" fill="#008000"/>
<rect x="106" y="468" width="2" height="8" fill="#008000"/>
<rect x="108" y="470" width="1" height="8" fill="#ff0000"/>
<rect x="107" y="471" width="2" height="6" fill="#ff0000"/>
<rect x="111" y="471" width="1" height="3" fill="#ff0000"/>
<rect x="110" y="471" width="2" height="3" fill="#ff0000"/>
<rect x="114" y="468" width="1" height="5" fill="#008000"/>
<rect x="113" y="469" width="2" height="3" fill="#008000"/>
<rect x="117" y="468" width="1" height="7" fill="#ff0000"/>
<rect x="116" y="469" width="2" height="5" fill="#ff0000"/>
<rect x="119" y="464" width="1" height="7" fill="#008000"/>
<rect x="118" y="465" width="2" height="5" fill="#008000"/>
<rect x="121" y="455" width="1" height="10" fill="#008000"/>
<rect x="120" y="456" width="2" height="8" fill="#008000"/>
<rect x="124" y="454" width="1" height="6" fill="#ff0000"/>
<rect x="123" y="455" width="2" height="4" fill="#ff0000"/>
<rect x="126" y="455" width="1" height="5" fill="#008000"/>
<rect x="125" y="456" width="2" height="4" fill="#008000"/>
<rect x="126" y="455" width="1" height="3" fill="#ff0000"/>
<rect x="125" y="455" width="2" height="3" fill="#ff0000"/>
<rect x="130" y="450" width="1" height="8" fill="#008000"/>
<rect x="129" y="451" width="2" height="5" fill="#008000"/>
<rect x="131" y="454" width="1" height="1" fill="#008000"/>
<rect x="130" y="454" width="2" height="1" fill="#008000"/>
<rect x="132" y="459" width="1" height="5" fill="#ff0000"/>
<rect x="131" y="460" width="2" height="3" fill="#ff0000"/>
<rect x="133" y="456" width="1" height="11" fill="#ff0000"/>
<rect x="132" y="458" width="2" height="7" fill="#ff0000"/>
<rect x="134" y="464" width="1" height="3" fill="#008000"/>
<rect x="133" y="464" width="2" height="3" fill="#008000"/>
<rect x="136" y="463" width="1" height="3" fill="#ff0000"/>
<rect x="135" y="463" width="2" height="3" fill="#ff0000"/>
<rect x="138" y="463" width="1" height="7" fill="#008000"/>
<rect x="137" y="464" width="2" height="5" fill="#008000"/>
<rect x="143" y="461" width="1" height="5" fill="#008000"/>
<rect x="142" y="462" width="2" height="3" fill="#008000"/>
<rect x="145" y="458" width="1" height="4" fill="#008000"/>
<rect x="144" y="458" width="2" height="3" fill="#008000"/>
<rect x="146" y="448" width="1" height="10" fill="#008000"/>
<rect x="145" y="450" width="2" height="6" fill="#008000"/>
<rect x="149" y="450" width="1" height="5" fill="#008000"/>
<rect x="148" y="451" width="2" height="3" fill="#008000"/>
<rect x="150" y="444" width="1" height="7" fill="#008000"/>
<rect x="149" y="445" width="2" height="5" fill="#008000"/>
<rect x="151" y="442" width="1" height="2" fill="#008000"/>
<rect x="150" y="442" width="2" height="2" fill="#008000"/>
<rect x="152" y="439" width="1" height="9" fill="#ff0000"/>
<rect x="151" y="440" width="2" height="7" fill="#ff0000"/>
<rect x="155" y="439" width="1" height="6" fill="#ff0000"/>
<rect x="154" y="440" width="2" height="4" fill="#ff0000"/>
<rect x="156" y="443" width="1" height="4" fill="#008000"/>
<rect x="155" y="444" width="2" height="2" fill="#008000"/>
<rect x="157" y="440" width="1" height="11" fill="#ff0000"/>
<rect x="156" y="442" width="2" height="7" fill="#ff0000"/>
<rect x="158" y="448" width="1" height="4" fill="#008000"/>
<rect x="157" y="449" width="2" height="2" fill="#008000"/>
<rect x="161" y="449" width="1" height="3" fill="#008000"/>
<rect x="160" y="449" width="2" height="3" fill="#008000"/>
<rect x="162" y="446" width="1" height="4" fill="#008000"/>
<rect x="161" y="447" width="2" height="2" fill="#008000"/>
<rect x="163" y="441" width="1" height="5" fill="#ff0000"/>
<rect x="162" y="442" width="2" height="3" fill="#ff0000"/>
<rect x="164" y="443" width="1" height="6" fill="#008000"/>
<rect x="163" y="444" width="2" height="4" fill="#008000"/>
<rect x="165" y="440" width="1" height="7" fill="#ff0000"/>
<rect x="164" y="441" width="2" height="5" fill="#ff0000"/>
<rect x="167" y="442" width="1" height="6" fill="#008000"/>
<rect x="166" y="443" width="2" height="4" fill="#008000"/>
<rect x="169" y="442" width="1" height="6" fill="#008000"/>
<rect x="168" y="443" width="2" height="4" fill="#008000"/>
<rect x="171" y="439" width="1" height="11" fill="#ff0000"/>
<rect x="170" y="441" width="2" height="7" fill="#ff0000"/>
<rect x="172" y="445" width="1" height="7" fill="#ff0000"/>
<rect x="171" y="446" width="2" height="5" fill="#ff0000"/>
<rect x="175" y="448" width="1" height="9" fill="#ff0000"/>
<rect x="174" y="449" width="2" height="7" fill="#ff0000"/>
<rect x="177" y="452" width="1" height="6" fill="#008000"/>
<rect x="176" y="453" width="2" height="4" fill="#008000"/>
<rect x="179" y="451" width="1" height="6" fill="#008000"/>
<rect x="178" y="452" width="2" height="4" fill="#008000"/>
<rect x="181" y="450" width="1" height="7" fill="#008000"/>
<rect x="180" y="451" width="2" height="5" fill="#008000"/>
<rect x="183" y="454" width="1" height="5" fill="#ff0000"/>
<rect x="182" y="455" width="2" height="3" fill="#ff0000"/>
<rect x="185" y="453" width="1" height="5" fill="#008000"/>
<rect x="184" y="454" width="2" height="3" fill="#008000"/>
<rect x="188" y="454" width="1" height="7" fill="#ff0000"/>
<rect x="187" y="455" width="2" height="5" fill="#ff0000"/>
<rect x="190" y="461" width="1" height="5" fill="#008000"/>
<rect x="189" y="462" width="2" height="3" fill="#008000"/>
<rect x="192" y="463" width="1" height="6" fill="#ff0000"/>
<rect x="191" y="464" width="2" height="4" fill="#ff0000"/>
<rect x="193" y="465" width="1" height="7" fill="#ff0000"/>
<rect x="192" y="466" width="2" height="5" fill="#ff0000"/>
<rect x="195" y="468" width="1" height="8" fill="#008000"/>
<rect x="194" y="469" width="2" height="6" fill="#008000"/>
<rect x="197" y="466" width="1" height="6" fill="#008000"/>
<rect x="196" y="467" width="2" height="4" fill="#008000"/>
<rect x="199" y="464" width="1" height="6" fill="#008000"/>
<rect x="198" y="465" width="2" height="4" fill="#008000"/>
<rect x="200" y="463" width="1" height="4" fill="#ff0000"/>
<rect x="199" y="464" width="2" height="2" fill="#ff0000"/>
<rect x="202" y="462" width="1" height="3" fill="#008000"/>
<rect x="201" y="462" width="2" height="3" fill="#008000"/>
<rect x="204" y="461" width="1" height="5" fill="#008000"/>
<rect x="203" y="462" width="2" height="3" fill="#008000"/>
<rect x="206" y="460" width="1" height="6" fill="#ff0000"/>
<rect x="205" y="461" width="2" height="4" fill="#ff0000"/>
<rect x="208" y="459" width="1" height="8" fill="#008000"/>
<rect x="207" y="460" width="2" height="6" fill="#008000"/>
<rect x="209" y="460" width="1" height="4" fill="#008000"/>
<rect x="208" y="461" width="2" height="2" fill="#008000"/>
<rect x="211" y="461" width="1" height="4" fill="#ff0000"/>
<rect x="210" y="462" width="2" height="2" fill="#ff0000"/>
<rect x="214" y="460" width="1" height="3" fill="#008000"/>
<rect x="213" y="460" width="2" height="3" fill="#008000"/>
<rect x="216" y="461" width="1" height="4" fill="#008000"/>
<rect x="215" y="462" width="2" height="2" fill="#008000"/>
<rect x="218" y="462" width="1" height="4" fill="#ff0000"/>
<rect x="217" y="463" width="2" height="2" fill="#ff0000"/>
<rect x="220" y="462" width="1" height="5" fill="#ff0000"/>
<rect x="219" y="463" width="2" height="3" fill="#ff0000"/>
<rect x="222" y="461" width="1" height="5" fill="#008000"/>
<rect x="221" y="462" width="2" height="3" fill="#008000"/>
<rect x="224" y="462" width="1" height="5" fill="#008000"/>
<rect x="223" y="463" width="2" height="3" fill="#008000"/>
<rect x="226" y="461" width="1" height="5" fill="#008000"/>
<rect x="225" y="462" width="2" height="3" fill="#008000"/>
<rect x="227" y="462" width="1" height="4" fill="#008000"/>
<rect x="226" y="463" width="2" height="2" fill="#008000"/>
<rect x="228" y="449" width="1" height="9" fill="#008000"/>
<rect x="227" y="450" width="2" height="7" fill="#008000"/>
<rect x="231" y="451" width="1" height="5" fill="#ff0000"/>
<rect x="230" y="452" width="2" height="3" fill="#ff0000"/>
<rect x="233" y="447" width="1" height="13" fill="#008000"/>
<rect x="232" y="449" width="2" height="9" fill="#008000"/>
<rect x="234" y="450" width="1" height="10" fill="#ff0000"/>
<rect x="233" y="452" width="2" height="6" fill="#ff0000"/>
<rect x="237" y="451" width="1" height="5" fill="#008000"/>
<rect x="236" y="452" width="2" height="3" fill="#008000"/>
<rect x="239" y="453" width="1" height="7" fill="#ff0000"/>
<rect x="238" y="454" width="2" height="5" fill="#ff0000"/>
<rect x="241" y="456" width="1" height="6" fill="#008000"/>
<rect x="240" y="457" width="2" height="4" fill="#008000"/>
<rect x="242" y="455" width="1" height="5" fill="#008000"/>
<rect x="241" y="456" width="2" height="3" fill="#008000"/>
<rect x="244" y="452" width="1" height="6" fill="#008000"/>
<rect x="243" y="453" width="2" height="4" fill="#008000"/>
<rect x="246" y="448" width="1" height="8" fill="#008000"/>
<rect x="245" y="450" width="2" height="5" fill="#008000"/>
<rect x="248" y="449" width="1" height="4" fill="#ff0000"/>
<rect x="247" y="450" width="2" height="2" fill="#ff0000"/>
<rect x="250" y="447" width="1" height="3" fill="#ff0000"/>
<rect x="249" y="447" width="2" height="3" fill="#ff0000"/>
<rect x="251" y="442" width="1" height="7" fill="#008000"/>
<rect x="250" y="443" width="2" height="5" fill="#008000"/>
<rect x="253" y="443" width="1" height="6" fill="#008000"/>
<rect x="252" y="444" width="2" height="4" fill="#008000"/>
<rect x="254" y="441" width="1" height="5" fill="#ff0000"/>
<rect x="253" y="442" width="2" height="3" fill="#ff0000"/>
<rect x="256" y="439" width="1" height="5" fill="#008000"/>
<rect x="255" y="440" width="2" height="3" fill="#008000"/>
<rect x="258" y="432" width="1" height="9" fill="#008000"/>
<rect x="257" y="433" width="2" height="7" fill="#008000"/>
<rect x="259" y="433" width="1" height="7" fill="#008000"/>
<rect x="258" y="434" width="2" height="5" fill="#008000"/>
<rect x="261" y="434" width="1" height="5" fill="#008000"/>
<rect x="260" y="435" width="2" height="3" fill="#008000"/>
<rect x="262" y="434" width="1" height="5" fill="#ff0000"/>
<rect x="261" y="435" width="2" height="3" fill="#ff0000"/>
<rect x="264" y="434" width="1" height="6" fill="#ff0000"/>
<rect x="263" y="435" width="2" height="4" fill="#ff0000"/>
<rect x="266" y="436" width="1" height="4" fill="#008000"/>
<rect x="265" y="437" width="2" height="2" fill="#008000"/>
<rect x="268" y="435" width="1" height="4" fill="#008000"/>
<rect x="267" y="436" width="2" height="2" fill="#008000"/>
<rect x="269" y="434" width="1" height="3" fill="#ff0000"/>
<rect x="268" y="434" width="2" height="3" fill="#ff0000"/>
<rect x="271" y="428" width="1" height="10" fill="#008000"/>
<rect x="270" y="429" width="2" height="7" fill="#008000"/>
<rect x="272" y="428" width="1" height="3" fill="#ff0000"/>
<rect x="271" y="429" width="2" height="2" fill="#ff0000"/>
<rect x="274" y="429" width="1" height="5" fill="#008000"/>
<rect x="273" y="430" width="2" height="3" fill="#008000"/>
<rect x="276" y="431" width="1" height="5" fill="#ff0000"/>
<rect x="275" y="432" width="2" height="3" fill="#ff0000"/>
<rect x="278" y="426" width="1" height="10" fill="#008000"/>
<rect x="277" y="427" width="2" height="7" fill="#008000"/>
<rect x="279" y="421" width="1" height="9" fill="#008000"/>
<rect x="278" y="422" width="2" height="6" fill="#008000"/>
<rect x="281" y="420" width="1" height="7" fill="#008000"/>
<rect x="280" y="421" width="2" height="5" fill="#008000"/>
<rect x="281" y="420" width="1" height="7" fill="#008000"/>
<rect x="280" y="421" width="2" height="5" fill="#008000"/>
<rect x="283" y="409" width="1" height="10" fill="#008000"/>
<rect x="282" y="411" width="2" height="7" fill="#008000"/>
<rect x="284" y="409" width="1" height="10" fill="#008000"/>
<rect x="283" y="410" width="2" height="8" fill="#008000"/>
<rect x="285" y="408" width="1" height="10" fill="#ff0000"/>
<rect x="284" y="410" width="2" height="6" fill="#ff0000"/>
<rect x="288" y="415" width="1" height="7" fill="#ff0000"/>
<rect x="287" y="416" width="2" height="5" fill="#ff0000"/>
<rect x="290" y="414" width="1" height="7" fill="#008000"/>
<rect x="289" y="415" width="2" height="5" fill="#008000"/>
<rect x="291" y="418" width="1" height="7" fill="#ff0000"/>
<rect x="290" y="419" width="2" height="5" fill="#ff0000"/>
<rect x="292" y="416" width="1" height="6" fill="#008000"/>
<rect x="291" y="417" width="2" height="4" fill="#008000"/>
<rect x="294" y="415" width="1" height="6" fill="#008000"/>
<rect x="293" y="416" width="2" height="4" fill="#008000"/>
<rect x="296" y="414" width="1" height="8" fill="#ff0000"/>
<rect x="295" y="415" width="2" height="6" fill="#ff0000"/>
<rect x="297" y="415" width="1" height="7" fill="#ff0000"/>
<rect x="296" y="416" width="2" height="5" fill="#ff0000"/>
<rect x="299" y="416" width="1" height="7" fill="#008000"/>
<rect x="298" y="417" width="2" height="5" fill="#008000"/>
<rect x="301" y="414" width="1" height="10" fill="#008000"/>
<rect x="300" y="416" width="2" height="6" fill="#008000"/>
<rect x="303" y="413" width="1" height="4" fill="#ff0000"/>
<rect x="302" y="414" width="2" height="2" fill="#ff0000"/>
<rect x="304" y="426" width="1" height="35" fill="#ff0000"/>
<rect x="303" y="432" width="2" height="24" fill="#ff0000"/>
<rect x="306" y="430" width="1" height="15" fill="#008000"/>
<rect x="305" y="432" width="2" height="11" fill="#008000"/>
<rect x="308" y="450" width="1" height="34" fill="#ff0000"/>
<rect x="307" y="455" width="2" height="24" fill="#ff0000"/>
<rect x="310" y="428" width="1" height="14" fill="#008000"/>
<rect x="309" y="430" width="2" height="10" fill="#008000"/>
<rect x="312" y="432" width="1" height="6" fill="#008000"/>
<rect x="311" y="433" width="2" height="4" fill="#008000"/>
<rect x="313" y="431" width="1" height="8" fill="#ff0000"/>
<rect x="312" y="432" width="2" height="6" fill="#ff0000"/>
<rect x="316" y="432" width="1" height="8" fill="#008000"/>
<rect x="315" y="433" width="2" height="6" fill="#008000"/>
<rect x="318" y="431" width="1" height="6" fill="#ff0000"/>
<rect x="317" y="432" width="2" height="4" fill="#ff0000"/>
<rect x="320" y="433" width="1" height="21" fill="#008000"/>
<rect x="319" y="437" width="2" height="14" fill="#008000"/>
<rect x="322" y="424" width="1" height="9" fill="#008000"/>
<rect x="321" y="426" width="2" height="6" fill="#008000"/>
<rect x="324" y="426" width="1" height="5" fill="#008000"/>
<rect x="323" y="427" width="2" height="3" fill="#008000"/>
<rect x="325" y="426" width="1" height="5" fill="#ff0000"/>
<rect x="324" y="427" width="2" height="4" fill="#ff0000"/>
<rect x="327" y="426" width="1" height="4" fill="#ff0000"/>
<rect x="326" y="427" width="2" height="2" fill="#ff0000"/>
<rect x="328" y="425" width="1" height="6" fill="#ff0000"/>
<rect x="327" y="426" width="2" height="4" fill="#ff0000"/>
<rect x="330" y="424" width="1" height="6" fill="#008000"/>
<rect x="329" y="425" width="2" height="4" fill="#008000"/>
<rect x="332" y="424" width="1" height="5" fill="#008000"/>
<rect x="331" y="425" width="2" height="3" fill="#008000"/>
<rect x="334" y="414" width="1" height="10" fill="#008000"/>
<rect x="333" y="415" width="2" height="7" fill="#008000"/>
<rect x="336" y="403" width="1" height="14" fill="#008000"/>
<rect x="335" y="405" width="2" height="10" fill="#008000"/>
<rect x="338" y="408" width="1" height="7" fill="#ff0000"/>
<rect x="337" y="409" width="2" height="5" fill="#ff0000"/>
<rect x="339" y="405" width="1" height="9" fill="#008000"/>
<rect x="338" y="406" width="2" height="7" fill="#008000"/>
<rect x="340" y="400" width="1" height="14" fill="#008000"/>
<rect x="339" y="402" width="2" height="10" fill="#008000"/>
<rect x="341" y="405" width="1" height="7" fill="#ff0000"/>
<rect x="340" y="406" width="2" height="5" fill="#ff0000"/>
<rect x="343" y="406" width="1" height="9" fill="#008000"/>
<rect x="342" y="407" width="2" height="7" fill="#008000"/>
<rect x="344" y="408" width="1" height="10" fill="#008000"/>
<rect x="343" y="410" width="2" height="6" fill="#008000"/>
<rect x="346" y="409" width="1" height="7" fill="#ff0000"/>
<rect x="345" y="410" width="2" height="5" fill="#ff0000"/>
<rect x="348" y="412" width="1" height="6" fill="#ff0000"/>
<rect x="347" y="413" width="2" height="4" fill="#ff0000"/>
<rect x="350" y="410" width="1" height="6" fill="#008000"/>
<rect x="349" y="411" width="2" height="4" fill="#008000"/>
<rect x="352" y="409" width="1" height="5" fill="#008000"/>
<rect x="351" y="410" width="2" height="3" fill="#008000"/>
<rect x="354" y="414" width="1" height="6" fill="#ff0000"/>
<rect x="353" y="415" width="2" height="4" fill="#ff0000"/>
<rect x="356" y="412" width="1" height="6" fill="#008000"/>
<rect x="355" y="413" width="2" height="4" fill="#008000"/>
<rect x="357" y="412" width="1" height="7" fill="#ff0000"/>
<rect x="356" y="413" width="2" height="5" fill="#ff0000"/>
<rect x="359" y="406" width="1" height="12" fill="#008000"/>
<rect x="358" y="407" width="2" height="9" fill="#008000"/>
<rect x="361" y="404" width="1" height="6" fill="#008000"/>
<rect x="360" y="405" width="2" height="4" fill="#008000"/>
<rect x="363" y="403" width="1" height="5" fill="#ff0000"/>
<rect x="362" y="404" width="2" height="4" fill="#ff0000"/>
<rect x="364" y="400" width="1" height="8" fill="#008000"/>
<rect x="363" y="401" width="2" height="6" fill="#008000"/>
<rect x="366" y="390" width="1" height="14" fill="#008000"/>
<rect x="365" y="392" width="2" height="10" fill="#008000"/>
<rect x="368" y="392" width="1" height="8" fill="#008000"/>
<rect x="367" y="393" width="2" height="6" fill="#008000"/>
<rect x="370" y="394" width="1" height="6" fill="#ff0000"/>
<rect x="369" y="395" width="2" height="4" fill="#ff0000"/>
<rect x="372" y="393" width="1" height="6" fill="#008000"/>
<rect x="371" y="394" width="2" height="4" fill="#008000"/>
<rect x="374" y="392" width="1" height="5" fill="#008000"/>
<rect x="373" y="393" width="2" height="3" fill="#008000"/>
<rect x="375" y="391" width="1" height="5" fill="#008000"/>
<rect x="374" y="392" width="2" height="3" fill="#008000"/>
<rect x="377" y="390" width="1" height="4" fill="#ff0000"/>
<rect x="376" y="391" width="2" height="3" fill="#ff0000"/>
<rect x="379" y="385" width="1" height="9" fill="#008000"/>
<rect x="378" y="386" width="2" height="7" fill="#008000"/>
<rect x="380" y="383" width="1" height="7" fill="#008000"/>
<rect x="379" y="384" width="2" height="5" fill="#008000"/>
<rect x="382" y="382" width="1" height="6" fill="#008000"/>
<rect x="381" y="383" width="2" height="4" fill="#008000"/>
<rect x="384" y="382" width="1" height="5" fill="#ff0000"/>
<rect x="383" y="383" width="2" height="3" fill="#ff0000"/>
<rect x="385" y="382" width="1" height="5" fill="#008000"/>
<rect x="384" y="383" width="2" height="4" fill="#008000"/>
<rect x="386" y="380" width="1" height="6" fill="#ff0000"/>
<rect x="385" y="381" width="2" height="4" fill="#ff0000"/>
<rect x="388" y="378" width="1" height="7" fill="#008000"/>
<rect x="387" y="379" width="2" height="5" fill="#008000"/>
<rect x="390" y="376" width="1" height="10" fill="#008000"/>
<rect x="389" y="378" width="2" height="7" fill="#008000"/>
<rect x="392" y="371" width="1" height="12" fill="#ff0000"/>
<rect x="391" y="373" width="2" height="8" fill="#ff0000"/>
<rect x="393" y="365" width="1" height="10" fill="#008000"/>
<rect x="392" y="366" width="2" height="8" fill="#008000"/>
<rect x="395" y="358" width="1" height="16" fill="#008000"/>
<rect x="394" y="360" width="2" height="11" fill="#008000"/>
<rect x="397" y="355" width="1" height="7" fill="#008000"/>
<rect x="396" y="356" width="2" height="5" fill="#008000"/>
<rect x="398" y="355" width="1" height="27" fill="#ff0000"/>
<rect x="397" y="359" width="2" height="19" fill="#ff0000"/>
<rect x="400" y="362" width="1" height="16" fill="#008000"/>
<rect x="399" y="364" width="2" height="12" fill="#008000"/>
<rect x="401" y="369" width="1" height="11" fill="#008000"/>
<rect x="400" y="371" width="2" height="8" fill="#008000"/>
<rect x="403" y="369" width="1" height="10" fill="#008000"/>
<rect x="402" y="370" width="2" height="8" fill="#008000"/>
<rect x="404" y="343" width="1" height="36" fill="#008000"/>
<rect x="403" y="348" width="2" height="26" fill="#008000"/>
<rect x="404" y="326" width="1" height="9" fill="#008000"/>
<rect x="403" y="327" width="2" height="7" fill="#008000"/>
<rect x="406" y="330" width="1" height="8" fill="#008000"/>
<rect x="405" y="331" width="2" height="6" fill="#008000"/>
<rect x="407" y="326" width="1" height="7" fill="#008000"/>
<rect x="406" y="327" width="2" height="5" fill="#008000"/>
<rect x="408" y="330" width="1" height="4" fill="#ff0000"/>
<rect x="407" y="330" width="2" height="3" fill="#ff0000"/>
<rect x="409" y="314" width="1" height="14" fill="#008000"/>
<rect x="408" y="316" width="2" height="10" fill="#008000"/>
<rect x="410" y="306" width="1" height="10" fill="#008000"/>
<rect x="409" y="307" width="2" height="7" fill="#008000"/>
<rect x="410" y="278" width="1" height="2" fill="#008000"/>
<rect x="409" y="278" width="2" height="2" fill="#008000"/>
<rect x="411" y="279" width="1" height="20" fill="#008000"/>
<rect x="410" y="282" width="2" height="14" fill="#008000"/>
<rect x="412" y="244" width="1" height="2" fill="#008000"/>
<rect x="411" y="244" width="2" height="2" fill="#008000"/>
<rect x="414" y="211" width="1" height="22" fill="#008000"/>
<rect x="413" y="214" width="2" height="16" fill="#008000"/>
<rect x="415" y="230" width="1" height="13" fill="#008000"/>
<rect x="414" y="232" width="2" height="9" fill="#008000"/>
<rect x="416" y="227" width="1" height="14" fill="#ff0000"/>
<rect x="415" y="229" width="2" height="10" fill="#ff0000"/>
<rect x="416" y="213" width="1" height="23" fill="#008000"/>
<rect x="415" y="216" width="2" height="17" fill="#008000"/>
<rect x="417" y="226" width="1" height="16" fill="#008000"/>
<rect x="416" y="228" width="2" height="12" fill="#008000"/>
<rect x="418" y="242" width="1" height="16" fill="#ff0000"/>
<rect x="417" y="244" width="2" height="12" fill="#ff0000"/>
<rect x="419" y="240" width="1" height="12" fill="#008000"/>
<rect x="418" y="242" width="2" height="8" fill="#008000"/>
<rect x="420" y="243" width="1" height="14" fill="#ff0000"/>
<rect x="419" y="245" width="2" height="10" fill="#ff0000"/>
<rect x="420" y="238" width="1" height="32" fill="#ff0000"/>
<rect x="419" y="243" width="2" height="23" fill="#ff0000"/>
<rect x="422" y="247" width="1" height="25" fill="#008000"/>
<rect x="421" y="251" width="2" height="17" fill="#008000"/>
<rect x="422" y="270" width="1" height="8" fill="#ff0000"/>
<rect x="421" y="271" width="2" height="6" fill="#ff0000"/>
<rect x="423" y="235" width="1" height="26" fill="#ff0000"/>
<rect x="422" y="239" width="2" height="18" fill="#ff0000"/>
<rect x="424" y="238" width="1" height="12" fill="#ff0000"/>
<rect x="423" y="240" width="2" height="8" fill="#ff0000"/>
<rect x="425" y="244" width="1" height="8" fill="#008000"/>
<rect x="424" y="245" width="2" height="6" fill="#008000"/>
<rect x="426" y="243" width="1" height="5" fill="#008000"/>
<rect x="425" y="244" width="2" height="3" fill="#008000"/>
<rect x="427" y="230" width="1" height="22" fill="#008000"/>
<rect x="426" y="233" width="2" height="16" fill="#008000"/>
<rect x="428" y="224" width="1" height="8" fill="#008000"/>
<rect x="427" y="225" width="2" height="6" fill="#008000"/>
<rect x="429" y="227" width="1" height="21" fill="#ff0000"/>
<rect x="428" y="230" width="2" height="15" fill="#ff0000"/>
<rect x="430" y="253" width="1" height="15" fill="#ff0000"/>
<rect x="429" y="255" width="2" height="11" fill="#ff0000"/>
<rect x="432" y="250" width="1" height="12" fill="#008000"/>
<rect x="431" y="252" width="2" height="8" fill="#008000"/>
<rect x="433" y="247" width="1" height="11" fill="#008000"/>
<rect x="432" y="249" width="2" height="7" fill="#008000"/>
<rect x="435" y="257" width="1" height="16" fill="#ff0000"/>
<rect x="434" y="259" width="2" height="12" fill="#ff0000"/>
<rect x="436" y="241" width="1" height="15" fill="#008000"/>
<rect x="435" y="243" width="2" height="10" fill="#008000"/>
<rect x="436" y="259" width="1" height="5" fill="#008000"/>
<rect x="435" y="260" width="2" height="3" fill="#008000"/>
<rect x="438" y="250" width="1" height="10" fill="#ff0000"/>
<rect x="437" y="252" width="2" height="6" fill="#ff0000"/>
<rect x="439" y="247" width="1" height="10" fill="#ff0000"/>
<rect x="438" y="248" width="2" height="8" fill="#ff0000"/>
<rect x="440" y="256" width="1" height="7" fill="#ff0000"/>
<rect x="439" y="257" width="2" height="5" fill="#ff0000"/>
<rect x="442" y="259" width="1" height="13" fill="#008000"/>
<rect x="441" y="261" width="2" height="9" fill="#008000"/>
<rect x="444" y="262" width="1" height="10" fill="#ff0000"/>
<rect x="443" y="264" width="2" height="6" fill="#ff0000"/>
<rect x="445" y="259" width="1" height="18" fill="#008000"/>
<rect x="444" y="262" width="2" height="12" fill="#008000"/>
<rect x="446" y="257" width="1" height="15" fill="#ff0000"/>
<rect x="445" y="259" width="2" height="11" fill="#ff0000"/>
<rect x="448" y="262" width="1" height="9" fill="#ff0000"/>
<rect x="447" y="263" width="2" height="7" fill="#ff0000"/>
<rect x="448" y="264" width="1" height="9" fill="#008000"/>
<rect x="447" y="265" width="2" height="6" fill="#008000"/>
<rect x="450" y="264" width="1" height="9" fill="#008000"/>
<rect x="449" y="265" width="2" height="7" fill="#008000"/>
<rect x="451" y="258" width="1" height="10" fill="#008000"/>
<rect x="450" y="260" width="2" height="6" fill="#008000"/>
<rect x="453" y="250" width="1" height="18" fill="#008000"/>
<rect x="452" y="253" width="2" height="12" fill="#008000"/>
<rect x="454" y="252" width="1" height="10" fill="#ff0000"/>
<rect x="453" y="254" width="2" height="6" fill="#ff0000"/>
<rect x="455" y="247" width="1" height="12" fill="#008000"/>
<rect x="454" y="249" width="2" height="8" fill="#008000"/>
<rect x="457" y="246" width="1" height="10" fill="#008000"/>
<rect x="456" y="248" width="2" height="6" fill="#008000"/>
<rect x="459" y="244" width="1" height="12" fill="#008000"/>
<rect x="458" y="245" width="2" height="9" fill="#008000"/>
<rect x="460" y="245" width="1" height="7" fill="#ff0000"/>
<rect x="459" y="246" width="2" height="5" fill="#ff0000"/>
<rect x="461" y="244" width="1" height="10" fill="#008000"/>
<rect x="460" y="245" width="2" height="7" fill="#008000"/>
<rect x="462" y="246" width="1" height="6" fill="#008000"/>
<rect x="461" y="247" width="2" height="4" fill="#008000"/>
<rect x="464" y="249" width="1" height="5" fill="#ff0000"/>
<rect x="463" y="249" width="2" height="4" fill="#ff0000"/>
<rect x="466" y="259" width="1" height="30" fill="#ff0000"/>
<rect x="465" y="263" width="2" height="21" fill="#ff0000"/>
<rect x="468" y="278" width="1" height="18" fill="#008000"/>
<rect x="467" y="281" width="2" height="13" fill="#008000"/>
<rect x="470" y="285" width="1" height="13" fill="#ff0000"/>
<rect x="469" y="287" width="2" height="9" fill="#ff0000"/>
<rect x="471" y="291" width="1" height="13" fill="#ff0000"/>
<rect x="470" y="293" width="2" height="9" fill="#ff0000"/>
<rect x="472" y="300" width="1" height="15" fill="#ff0000"/>
<rect x="471" y="302" width="2" height="11" fill="#ff0000"/>
<rect x="473" y="304" width="1" height="23" fill="#008000"/>
<rect x="472" y="307" width="2" height="16" fill="#008000"/>
<rect x="474" y="301" width="1" height="12" fill="#008000"/>
<rect x="473" y="303" width="2" height="8" fill="#008000"/>
<rect x="477" y="310" width="1" height="18" fill="#ff0000"/>
<rect x="476" y="313" width="2" height="12" fill="#ff0000"/>
<rect x="479" y="305" width="1" height="21" fill="#008000"/>
<rect x="478" y="308" width="2" height="15" fill="#008000"/>
<rect x="483" y="316" width="1" height="10" fill="#ff0000"/>
<rect x="482" y="318" width="2" height="6" fill="#ff0000"/>
<rect x="484" y="318" width="1" height="11" fill="#ff0000"/>
<rect x="483" y="320" width="2" height="7" fill="#ff0000"/>
<rect x="485" y="315" width="1" height="15" fill="#008000"/>
<rect x="484" y="317" width="2" height="11" fill="#008000"/>
<rect x="486" y="315" width="1" height="13" fill="#008000"/>
<rect x="485" y="317" width="2" height="9" fill="#008000"/>
<rect x="489" y="313" width="1" height="7" fill="#008000"/>
<rect x="488" y="314" width="2" height="5" fill="#008000"/>
<rect x="490" y="320" width="1" height="3" fill="#ff0000"/>
<rect x="489" y="320" width="2" height="3" fill="#ff0000"/>
<rect x="491" y="314" width="1" height="10" fill="#ff0000"/>
<rect x="490" y="316" width="2" height="6" fill="#ff0000"/>
<rect x="493" y="325" width="1" height="5" fill="#ff0000"/>
<rect x="492" y="326" width="2" height="3" fill="#ff0000"/>
<rect x="496" y="323" width="1" height="10" fill="#ff0000"/>
<rect x="495" y="324" width="2" height="8" fill="#ff0000"/>
<rect x="498" y="322" width="1" height="11" fill="#008000"/>
<rect x="497" y="324" width="2" height="7" fill="#008000"/>
<rect x="499" y="318" width="1" height="7" fill="#008000"/>
<rect x="498" y="319" width="2" height="5" fill="#008000"/>
<rect x="502" y="320" width="1" height="10" fill="#008000"/>
<rect x="501" y="322" width="2" height="6" fill="#008000"/>
<rect x="502" y="324" width="1" height="2" fill="#ff0000"/>
<rect x="501" y="324" width="2" height="2" fill="#ff0000"/>
<rect x="502" y="301" width="1" height="23" fill="#008000"/>
<rect x="501" y="304" width="2" height="16" fill="#008000"/>
<rect x="504" y="279" width="1" height="19" fill="#008000"/>
<rect x="503" y="282" width="2" height="13" fill="#008000"/>
<rect x="505" y="274" width="1" height="24" fill="#008000"/>
<rect x="504" y="278" width="2" height="16" fill="#008000"/>
<rect x="506" y="284" width="1" height="11" fill="#ff0000"/>
<rect x="505" y="286" width="2" height="7" fill="#ff0000"/>
<rect x="508" y="284" width="1" height="12" fill="#008000"/>
<rect x="507" y="286" width="2" height="8" fill="#008000"/>
<rect x="509" y="286" width="1" height="12" fill="#008000"/>
<rect x="508" y="288" width="2" height="8" fill="#008000"/>
<rect x="510" y="285" width="1" height="17" fill="#ff0000"/>
<rect x="509" y="288" width="2" height="11" fill="#ff0000"/>
<rect x="512" y="292" width="1" height="26" fill="#ff0000"/>
<rect x="511" y="295" width="2" height="19" fill="#ff0000"/>
<rect x="513" y="296" width="1" height="10" fill="#008000"/>
<rect x="512" y="298" width="2" height="6" fill="#008000"/>
<rect x="514" y="295" width="1" height="11" fill="#008000"/>
<rect x="513" y="297" width="2" height="7" fill="#008000"/>
<rect x="516" y="287" width="1" height="32" fill="#008000"/>
<rect x="515" y="292" width="2" height="22" fill="#008000"/>
<rect x="517" y="292" width="1" height="8" fill="#ff0000"/>
<rect x="516" y="293" width="2" height="6" fill="#ff0000"/>
<rect x="518" y="290" width="1" height="12" fill="#008000"/>
<rect x="517" y="292" width="2" height="8" fill="#008000"/>
<rect x="519" y="288" width="1" height="8" fill="#008000"/>
<rect x="518" y="289" width="2" height="6" fill="#008000"/>
<rect x="520" y="286" width="1" height="8" fill="#ff0000"/>
<rect x="519" y="287" width="2" height="6" fill="#ff0000"/>
<rect x="522" y="282" width="1" height="11" fill="#008000"/>
<rect x="521" y="284" width="2" height="7" fill="#008000"/>
<rect x="523" y="286" width="1" height="12" fill="#008000"/>
<rect x="522" y="288" width="2" height="8" fill="#008000"/>
<rect x="524" y="295" width="1" height="9" fill="#ff0000"/>
<rect x="523" y="296" width="2" height="6" fill="#ff0000"/>
<rect x="526" y="290" width="1" height="8" fill="#008000"/>
<rect x="525" y="291" width="2" height="6" fill="#008000"/>
<rect x="527" y="287" width="1" height="8" fill="#008000"/>
<rect x="526" y="288" width="2" height="5" fill="#008000"/>
<rect x="529" y="285" width="1" height="8" fill="#008000"/>
<rect x="528" y="286" width="2" height="6" fill="#008000"/>
<rect x="530" y="262" width="1" height="31" fill="#008000"/>
<rect x="529" y="267" width="2" height="21" fill="#008000"/>
<rect x="532" y="260" width="1" height="7" fill="#008000"/>
<rect x="531" y="261" width="2" height="5" fill="#008000"/>
<rect x="533" y="251" width="1" height="9" fill="#008000"/>
<rect x="532" y="253" width="2" height="6" fill="#008000"/>
<rect x="535" y="234" width="1" height="16" fill="#008000"/>
<rect x="534" y="237" width="2" height="10" fill="#008000"/>
<rect x="536" y="233" width="1" height="15" fill="#ff0000"/>
<rect x="535" y="235" width="2" height="11" fill="#ff0000"/>
<rect x="537" y="244" width="1" height="15" fill="#008000"/>
<rect x="536" y="246" width="2" height="11" fill="#008000"/>
<rect x="538" y="246" width="1" height="10" fill="#ff0000"/>
<rect x="537" y="248" width="2" height="6" fill="#ff0000"/>
<rect x="539" y="244" width="1" height="12" fill="#008000"/>
<rect x="538" y="245" width="2" height="9" fill="#008000"/>
<rect x="541" y="242" width="1" height="11" fill="#ff0000"/>
<rect x="540" y="244" width="2" height="7" fill="#ff0000"/>
<rect x="542" y="238" width="1" height="18" fill="#ff0000"/>
<rect x="541" y="241" width="2" height="12" fill="#ff0000"/>
<rect x="544" y="248" width="1" height="14" fill="#ff0000"/>
<rect x="543" y="250" width="2" height="10" fill="#ff0000"/>
<rect x="545" y="252" width="1" height="14" fill="#ff0000"/>
<rect x="544" y="254" width="2" height="10" fill="#ff0000"/>
<rect x="546" y="256" width="1" height="18" fill="#ff0000"/>
<rect x="545" y="259" width="2" height="13" fill="#ff0000"/>
<rect x="548" y="262" width="1" height="9" fill="#008000"/>
<rect x="547" y="263" width="2" height="7" fill="#008000"/>
<rect x="550" y="254" width="1" height="14" fill="#008000"/>
<rect x="549" y="256" width="2" height="10" fill="#008000"/>
<polyline points="75.7,477.0 87.4,476.6 97.7,476.0 106.8,476.0 114.5,475.0 122.3,475.6 130.0,475.0 138.0,473.8 144.4,472.2 150.9,470.6 157.4,468.3 163.8,466.7 168.8,465.3 175.3,463.4 181.8,461.7 188.3,461.2 194.7,460.1 202.5,459.1 210.0,458.6 220.5,459.3 227.0,458.9 234.8,458.3 243.8,457.0 252.9,455.9 260.7,454.6 269.7,453.1 277.5,451.8 285.0,450.9 288.4,450.2 296.7,447.4 305.1,445.3 313.4,443.2 321.8,441.5 330.2,439.3 338.5,436.5 346.9,433.2 355.3,430.0 363.4,425.1 371.7,420.9 380.1,418.1 388.5,414.6 396.8,411.1 402.4,409.0 407.3,405.5 412.2,399.3 416.4,393.0 420.6,387.4 424.0,380.4 429.1,372.8 435.0,365.1 441.1,355.3 445.4,351.0 449.8,344.4 454.0,339.5 457.1,335.3 460.3,330.5 467.0,322.0 473.0,317.0 480.0,312.0 487.0,307.0 493.0,302.0 498.0,298.5 503.0,297.0 509.3,293.0 513.9,289.9 518.5,286.8 523.2,283.7 530.9,283.4 540.2,283.4 546.4,283.7 550.2,284.5" fill="none" stroke="#ff0000" stroke-width="2" stroke-linejoin="round" shape-rendering="crispEdges"/>
<polyline points="17.0,471.6 22.0,470.5 30.0,472.6 40.0,475.5 50.0,476.5 55.0,477.9 58.9,479.8 62.8,481.1 67.9,482.0 73.1,482.0 77.7,482.8 82.2,481.8 87.4,481.4 92.5,480.2 95.8,477.9 100.3,476.6 106.8,475.0 113.3,473.1 119.7,471.2 126.2,469.5 132.7,467.9 136.5,466.9 142.9,464.7 149.4,462.5 155.9,461.2 162.4,459.1 168.8,456.9 174.0,454.7 179.2,453.9 188.3,453.7 199.9,453.9 205.1,455.0 211.5,457.0 217.9,458.5 224.4,459.8 230.9,460.3 238.7,460.5 249.0,460.6 254.2,458.9 259.4,456.3 264.5,453.7 271.0,450.5 276.2,448.5 280.1,446.0 285.6,441.1 291.1,438.3 298.1,434.1 303.0,430.7 307.9,430.7 314.8,430.0 321.8,429.3 328.8,427.9 335.7,425.5 339.9,424.8 346.9,424.7 352.5,424.0 360.0,423.7 362.0,423.4 366.2,419.5 371.7,416.0 378.7,411.8 385.7,405.5 392.7,400.7 398.2,396.5 402.4,393.7 406.6,389.5 409.4,383.2 412.2,374.9 415.1,368.2 417.3,360.7 420.0,353.0 422.7,345.5 425.9,340.0 429.2,329.3 432.4,323.8 435.7,314.1 440.0,306.5 443.3,300.5 445.2,295.3 448.6,288.5 452.9,281.7 456.9,274.3 461.2,264.9 465.4,259.8 468.0,258.1 471.4,259.8 476.5,266.6 482.5,273.4 487.6,279.4 494.4,286.2 499.5,292.2 504.6,296.1 509.3,297.6 513.9,301.5 518.5,305.4 523.2,308.5 528.6,308.5 532.5,305.4 537.1,300.7 541.7,295.3 546.4,290.7 550.2,286.5" fill="none" stroke="#000" stroke-width="2" stroke-linejoin="round" shape-rendering="crispEdges"/>
</g></svg>
<rect x="574" y="244" width="44" height="16" fill="#000"/>
<text x="575.2" y="256.2" font-family="Liberation Sans, sans-serif" font-size="11.4" fill="#00ff00">27200.00</text>
<svg x="0" y="530" width="569" height="100" overflow="hidden"><g transform="translate(0,-530)">
<rect x="0" y="611" width="1" height="12" fill="#008000"/>
<rect x="1" y="613" width="2" height="10" fill="#008000"/>
<rect x="3" y="608" width="3" height="15" fill="#008000"/>
<rect x="6" y="602" width="3" height="21" fill="#008000"/>
<rect x="9" y="604" width="1" height="19" fill="#008000"/>
<rect x="10" y="606" width="4" height="17" fill="#008000"/>
<rect x="14" y="616" width="1" height="7" fill="#008000"/>
<rect x="15" y="606" width="1" height="17" fill="#008000"/>
<rect x="16" y="588" width="2" height="35" fill="#008000"/>
<rect x="18" y="599" width="2" height="24" fill="#008000"/>
<rect x="20" y="602" width="2" height="21" fill="#008000"/>
<rect x="22" y="599" width="2" height="24" fill="#008000"/>
<rect x="24" y="609" width="2" height="14" fill="#008000"/>
<rect x="26" y="612" width="3" height="11" fill="#008000"/>
<rect x="29" y="616" width="1" height="7" fill="#008000"/>
<rect x="30" y="610" width="2" height="13" fill="#008000"/>
<rect x="32" y="608" width="2" height="15" fill="#008000"/>
<rect x="34" y="612" width="2" height="11" fill="#008000"/>
<rect x="36" y="611" width="2" height="12" fill="#008000"/>
<rect x="38" y="600" width="2" height="23" fill="#008000"/>
<rect x="40" y="610" width="3" height="13" fill="#008000"/>
<rect x="43" y="611" width="3" height="12" fill="#008000"/>
<rect x="46" y="596" width="2" height="27" fill="#008000"/>
<rect x="48" y="611" width="3" height="12" fill="#008000"/>
<rect x="51" y="602" width="2" height="21" fill="#008000"/>
<rect x="53" y="605" width="2" height="18" fill="#008000"/>
<rect x="55" y="611" width="2" height="12" fill="#008000"/>
<rect x="57" y="614" width="2" height="9" fill="#008000"/>
<rect x="59" y="611" width="3" height="12" fill="#008000"/>
<rect x="62" y="594" width="2" height="29" fill="#008000"/>
<rect x="64" y="604" width="2" height="19" fill="#008000"/>
<rect x="66" y="612" width="5" height="11" fill="#008000"/>
<rect x="71" y="616" width="1" height="7" fill="#008000"/>
<rect x="72" y="604" width="2" height="19" fill="#008000"/>
<rect x="74" y="614" width="3" height="9" fill="#008000"/>
<rect x="77" y="615" width="3" height="8" fill="#008000"/>
<rect x="80" y="617" width="5" height="6" fill="#008000"/>
<rect x="85" y="609" width="2" height="14" fill="#008000"/>
<rect x="87" y="616" width="3" height="7" fill="#008000"/>
<rect x="90" y="605" width="1" height="18" fill="#008000"/>
<rect x="91" y="570" width="2" height="53" fill="#008000"/>
<rect x="93" y="590" width="2" height="33" fill="#008000"/>
<rect x="95" y="598" width="1" height="25" fill="#008000"/>
<rect x="96" y="588" width="2" height="35" fill="#008000"/>
<rect x="98" y="604" width="2" height="19" fill="#008000"/>
<rect x="100" y="613" width="1" height="10" fill="#008000"/>
<rect x="101" y="614" width="2" height="9" fill="#008000"/>
<rect x="103" y="599" width="3" height="24" fill="#008000"/>
<rect x="106" y="601" width="2" height="22" fill="#008000"/>
<rect x="108" y="605" width="1" height="18" fill="#008000"/>
<rect x="109" y="615" width="5" height="8" fill="#008000"/>
<rect x="114" y="617" width="3" height="6" fill="#008000"/>
<rect x="117" y="608" width="2" height="15" fill="#008000"/>
<rect x="119" y="611" width="3" height="12" fill="#008000"/>
<rect x="122" y="607" width="2" height="16" fill="#008000"/>
<rect x="124" y="613" width="5" height="10" fill="#008000"/>
<rect x="129" y="606" width="1" height="17" fill="#008000"/>
<rect x="130" y="612" width="3" height="11" fill="#008000"/>
<rect x="133" y="615" width="5" height="8" fill="#008000"/>
<rect x="138" y="617" width="2" height="6" fill="#008000"/>
<rect x="140" y="615" width="4" height="8" fill="#008000"/>
<rect x="144" y="603" width="2" height="20" fill="#008000"/>
<rect x="146" y="609" width="2" height="14" fill="#008000"/>
<rect x="148" y="599" width="2" height="24" fill="#008000"/>
<rect x="150" y="606" width="2" height="17" fill="#008000"/>
<rect x="152" y="611" width="3" height="12" fill="#008000"/>
<rect x="155" y="607" width="3" height="16" fill="#008000"/>
<rect x="158" y="613" width="2" height="10" fill="#008000"/>
<rect x="160" y="611" width="6" height="12" fill="#008000"/>
<rect x="166" y="612" width="4" height="11" fill="#008000"/>
<rect x="170" y="608" width="2" height="15" fill="#008000"/>
<rect x="172" y="613" width="4" height="10" fill="#008000"/>
<rect x="176" y="617" width="3" height="6" fill="#008000"/>
<rect x="179" y="618" width="3" height="5" fill="#008000"/>
<rect x="182" y="616" width="5" height="7" fill="#008000"/>
<rect x="187" y="610" width="2" height="13" fill="#008000"/>
<rect x="189" y="616" width="4" height="7" fill="#008000"/>
<rect x="193" y="612" width="2" height="11" fill="#008000"/>
<rect x="195" y="617" width="11" height="6" fill="#008000"/>
<rect x="206" y="617" width="3" height="6" fill="#008000"/>
<rect x="209" y="615" width="1" height="8" fill="#008000"/>
<rect x="210" y="618" width="10" height="5" fill="#008000"/>
<rect x="220" y="615" width="2" height="8" fill="#008000"/>
<rect x="222" y="619" width="4" height="4" fill="#008000"/>
<rect x="226" y="608" width="2" height="15" fill="#008000"/>
<rect x="228" y="611" width="2" height="12" fill="#008000"/>
<rect x="230" y="613" width="3" height="10" fill="#008000"/>
<rect x="233" y="612" width="3" height="11" fill="#008000"/>
<rect x="236" y="615" width="4" height="8" fill="#008000"/>
<rect x="240" y="617" width="9" height="6" fill="#008000"/>
<rect x="249" y="612" width="2" height="11" fill="#008000"/>
<rect x="251" y="616" width="1" height="7" fill="#008000"/>
<rect x="252" y="614" width="2" height="9" fill="#008000"/>
<rect x="254" y="617" width="2" height="6" fill="#008000"/>
<rect x="256" y="612" width="1" height="11" fill="#008000"/>
<rect x="257" y="608" width="3" height="15" fill="#008000"/>
<rect x="260" y="617" width="8" height="6" fill="#008000"/>
<rect x="268" y="608" width="2" height="15" fill="#008000"/>
<rect x="270" y="595" width="2" height="28" fill="#008000"/>
<rect x="272" y="613" width="4" height="10" fill="#008000"/>
<rect x="276" y="607" width="2" height="16" fill="#008000"/>
<rect x="278" y="601" width="2" height="22" fill="#008000"/>
<rect x="280" y="604" width="1" height="19" fill="#008000"/>
<rect x="281" y="588" width="1" height="35" fill="#008000"/>
<rect x="282" y="598" width="2" height="25" fill="#008000"/>
<rect x="284" y="600" width="3" height="23" fill="#008000"/>
<rect x="287" y="605" width="1" height="18" fill="#008000"/>
<rect x="288" y="603" width="3" height="20" fill="#008000"/>
<rect x="291" y="607" width="2" height="16" fill="#008000"/>
<rect x="293" y="611" width="5" height="12" fill="#008000"/>
<rect x="298" y="613" width="3" height="10" fill="#008000"/>
<rect x="301" y="609" width="1" height="14" fill="#008000"/>
<rect x="302" y="560" width="2" height="63" fill="#008000"/>
<rect x="304" y="570" width="1" height="53" fill="#008000"/>
<rect x="305" y="575" width="2" height="48" fill="#008000"/>
<rect x="307" y="578" width="1" height="45" fill="#008000"/>
<rect x="308" y="566" width="2" height="57" fill="#008000"/>
<rect x="310" y="600" width="2" height="23" fill="#008000"/>
<rect x="312" y="600" width="2" height="23" fill="#008000"/>
<rect x="314" y="606" width="1" height="17" fill="#008000"/>
<rect x="315" y="597" width="2" height="26" fill="#008000"/>
<rect x="317" y="590" width="2" height="33" fill="#008000"/>
<rect x="319" y="597" width="1" height="26" fill="#008000"/>
<rect x="320" y="593" width="2" height="30" fill="#008000"/>
<rect x="322" y="604" width="1" height="19" fill="#008000"/>
<rect x="323" y="612" width="2" height="11" fill="#008000"/>
<rect x="325" y="607" width="4" height="16" fill="#008000"/>
<rect x="329" y="612" width="1" height="11" fill="#008000"/>
<rect x="330" y="597" width="3" height="26" fill="#008000"/>
<rect x="333" y="594" width="1" height="29" fill="#008000"/>
<rect x="334" y="573" width="2" height="50" fill="#008000"/>
<rect x="336" y="603" width="5" height="20" fill="#008000"/>
<rect x="341" y="612" width="1" height="11" fill="#008000"/>
<rect x="342" y="609" width="3" height="14" fill="#008000"/>
<rect x="345" y="612" width="2" height="11" fill="#008000"/>
<rect x="347" y="610" width="6" height="13" fill="#008000"/>
<rect x="353" y="612" width="5" height="11" fill="#008000"/>
<rect x="358" y="592" width="1" height="31" fill="#008000"/>
<rect x="359" y="610" width="3" height="13" fill="#008000"/>
<rect x="362" y="605" width="2" height="18" fill="#008000"/>
<rect x="364" y="586" width="1" height="37" fill="#008000"/>
<rect x="365" y="605" width="1" height="18" fill="#008000"/>
<rect x="366" y="604" width="3" height="19" fill="#008000"/>
<rect x="369" y="607" width="3" height="16" fill="#008000"/>
<rect x="372" y="609" width="4" height="14" fill="#008000"/>
<rect x="376" y="605" width="3" height="18" fill="#008000"/>
<rect x="379" y="607" width="3" height="16" fill="#008000"/>
<rect x="382" y="610" width="3" height="13" fill="#008000"/>
<rect x="385" y="607" width="3" height="16" fill="#008000"/>
<rect x="388" y="604" width="3" height="19" fill="#008000"/>
<rect x="391" y="603" width="2" height="20" fill="#008000"/>
<rect x="393" y="594" width="2" height="29" fill="#008000"/>
<rect x="395" y="599" width="1" height="24" fill="#008000"/>
<rect x="396" y="587" width="2" height="36" fill="#008000"/>
<rect x="398" y="599" width="1" height="24" fill="#008000"/>
<rect x="399" y="604" width="3" height="19" fill="#008000"/>
<rect x="402" y="571" width="2" height="52" fill="#008000"/>
<rect x="404" y="601" width="3" height="22" fill="#008000"/>
<rect x="407" y="587" width="1" height="36" fill="#008000"/>
<rect x="408" y="582" width="1" height="41" fill="#008000"/>
<rect x="409" y="565" width="2" height="58" fill="#008000"/>
<rect x="411" y="592" width="1" height="31" fill="#008000"/>
<rect x="412" y="538" width="2" height="85" fill="#008000"/>
<rect x="414" y="583" width="1" height="40" fill="#008000"/>
<rect x="415" y="567" width="2" height="56" fill="#008000"/>
<rect x="417" y="581" width="1" height="42" fill="#008000"/>
<rect x="418" y="570" width="2" height="53" fill="#008000"/>
<rect x="420" y="582" width="1" height="41" fill="#008000"/>
<rect x="421" y="593" width="2" height="30" fill="#008000"/>
<rect x="423" y="599" width="1" height="24" fill="#008000"/>
<rect x="424" y="582" width="1" height="41" fill="#008000"/>
<rect x="425" y="584" width="2" height="39" fill="#008000"/>
<rect x="427" y="574" width="2" height="49" fill="#008000"/>
<rect x="429" y="577" width="1" height="46" fill="#008000"/>
<rect x="430" y="599" width="1" height="24" fill="#008000"/>
<rect x="431" y="602" width="1" height="21" fill="#008000"/>
<rect x="432" y="600" width="2" height="23" fill="#008000"/>
<rect x="434" y="607" width="1" height="16" fill="#008000"/>
<rect x="435" y="585" width="2" height="38" fill="#008000"/>
<rect x="437" y="610" width="3" height="13" fill="#008000"/>
<rect x="440" y="603" width="2" height="20" fill="#008000"/>
<rect x="442" y="615" width="1" height="8" fill="#008000"/>
<rect x="443" y="606" width="2" height="17" fill="#008000"/>
<rect x="445" y="612" width="2" height="11" fill="#008000"/>
<rect x="447" y="608" width="2" height="15" fill="#008000"/>
<rect x="449" y="614" width="1" height="9" fill="#008000"/>
<rect x="450" y="591" width="2" height="32" fill="#008000"/>
<rect x="452" y="594" width="2" height="29" fill="#008000"/>
<rect x="454" y="599" width="2" height="24" fill="#008000"/>
<rect x="456" y="595" width="1" height="28" fill="#008000"/>
<rect x="457" y="582" width="2" height="41" fill="#008000"/>
<rect x="459" y="587" width="2" height="36" fill="#008000"/>
<rect x="461" y="600" width="2" height="23" fill="#008000"/>
<rect x="463" y="591" width="1" height="32" fill="#008000"/>
<rect x="464" y="569" width="2" height="54" fill="#008000"/>
<rect x="466" y="585" width="1" height="38" fill="#008000"/>
<rect x="467" y="601" width="1" height="22" fill="#008000"/>
<rect x="468" y="608" width="1" height="15" fill="#008000"/>
<rect x="469" y="589" width="1" height="34" fill="#008000"/>
<rect x="470" y="585" width="2" height="38" fill="#008000"/>
<rect x="472" y="587" width="1" height="36" fill="#008000"/>
<rect x="473" y="605" width="2" height="18" fill="#008000"/>
<rect x="475" y="606" width="2" height="17" fill="#008000"/>
<rect x="477" y="601" width="1" height="22" fill="#008000"/>
<rect x="478" y="596" width="1" height="27" fill="#008000"/>
<rect x="479" y="612" width="1" height="11" fill="#008000"/>
<rect x="480" y="615" width="1" height="8" fill="#008000"/>
<rect x="481" y="607" width="2" height="16" fill="#008000"/>
<rect x="483" y="610" width="2" height="13" fill="#008000"/>
<rect x="485" y="608" width="2" height="15" fill="#008000"/>
<rect x="487" y="610" width="2" height="13" fill="#008000"/>
<rect x="489" y="608" width="2" height="15" fill="#008000"/>
<rect x="491" y="610" width="1" height="13" fill="#008000"/>
<rect x="492" y="603" width="2" height="20" fill="#008000"/>
<rect x="494" y="615" width="1" height="8" fill="#008000"/>
<rect x="495" y="606" width="2" height="17" fill="#008000"/>
<rect x="497" y="607" width="2" height="16" fill="#008000"/>
<rect x="499" y="612" width="1" height="11" fill="#008000"/>
<rect x="500" y="616" width="2" height="7" fill="#008000"/>
<rect x="502" y="582" width="1" height="41" fill="#008000"/>
<rect x="503" y="564" width="2" height="59" fill="#008000"/>
<rect x="505" y="601" width="2" height="22" fill="#008000"/>
<rect x="507" y="598" width="2" height="25" fill="#008000"/>
<rect x="509" y="606" width="2" height="17" fill="#008000"/>
<rect x="511" y="607" width="1" height="16" fill="#008000"/>
<rect x="512" y="610" width="3" height="13" fill="#008000"/>
<rect x="515" y="612" width="2" height="11" fill="#008000"/>
<rect x="517" y="603" width="2" height="20" fill="#008000"/>
<rect x="519" y="606" width="1" height="17" fill="#008000"/>
<rect x="520" y="605" width="3" height="18" fill="#008000"/>
<rect x="523" y="603" width="1" height="20" fill="#008000"/>
<rect x="524" y="613" width="2" height="10" fill="#008000"/>
<rect x="526" y="606" width="1" height="17" fill="#008000"/>
<rect x="527" y="596" width="1" height="27" fill="#008000"/>
<rect x="528" y="570" width="2" height="53" fill="#008000"/>
<rect x="530" y="588" width="2" height="35" fill="#008000"/>
<rect x="532" y="575" width="2" height="48" fill="#008000"/>
<rect x="534" y="581" width="2" height="42" fill="#008000"/>
<rect x="536" y="590" width="1" height="33" fill="#008000"/>
<rect x="537" y="597" width="1" height="26" fill="#008000"/>
<rect x="538" y="608" width="1" height="15" fill="#008000"/>
<rect x="539" y="602" width="3" height="21" fill="#008000"/>
<rect x="542" y="610" width="2" height="13" fill="#008000"/>
<rect x="544" y="606" width="1" height="17" fill="#008000"/>
<rect x="545" y="600" width="2" height="23" fill="#008000"/>
<rect x="547" y="609" width="2" height="14" fill="#008000"/>
<rect x="549" y="602" width="2" height="21" fill="#008000"/>
<polyline points="0.0,604.0 3.9,604.7 7.8,605.3 12.9,606.0 25.9,606.0 31.1,607.2 38.8,607.9 42.7,609.8 49.2,610.7 55.7,609.2 63.4,609.4 67.3,608.9 71.2,610.5 75.1,611.1 79.0,611.8 85.2,613.1 89.7,615.0 95.5,609.8 99.4,607.6 104.6,606.6 107.8,604.0 112.4,604.0 116.2,607.9 120.1,610.7 125.3,611.1 131.8,613.1 139.5,613.1 144.7,613.7 149.9,612.0 155.1,611.8 160.0,611.1 165.2,610.5 170.4,610.7 172.9,611.8 176.8,612.4 180.7,613.7 184.6,614.6 193.7,615.0 202.7,615.7 206.6,616.7 214.4,617.0 217.0,617.9 224.7,617.9 228.6,617.0 232.5,615.9 240.0,615.6 246.5,615.8 248.4,614.5 251.7,615.8 268.5,615.8 271.1,614.0 276.2,613.6 280.1,611.7 285.3,609.3 290.5,606.7 293.1,605.8 294.4,606.7 300.8,606.7 303.4,604.9 307.3,602.0 311.2,600.0 315.1,599.4 317.7,598.1 320.0,596.8 322.6,595.5 326.5,596.1 329.1,600.7 332.9,602.3 335.5,601.0 340.1,601.0 342.7,602.9 345.9,603.9 351.1,604.2 355.0,605.8 357.5,608.4 364.0,609.1 367.9,607.8 371.8,607.1 377.0,607.1 382.1,606.5 385.0,607.1 389.4,608.6 393.9,608.6 398.3,605.6 402.8,604.9 407.2,602.7 411.0,596.7 414.7,591.5 418.1,589.1 421.1,586.1 424.2,585.6 427.3,584.5 430.3,582.0 432.9,583.0 435.4,587.1 438.5,590.2 441.6,596.3 445.7,599.9 449.8,602.9 452.8,606.0 456.4,606.0 460.0,602.9 464.1,602.9 466.1,598.8 469.2,597.8 472.2,594.2 475.0,594.2 477.3,593.9 479.5,595.6 482.8,597.7 486.0,600.4 489.3,603.7 493.1,606.4 496.8,608.6 500.6,610.2 502.8,609.7 504.4,607.0 507.7,605.6 510.4,604.8 513.0,604.8 518.4,604.6 523.8,604.2 528.2,607.0 532.5,603.7 536.8,599.9 541.2,597.7 545.5,597.7 549.9,597.0" fill="none" stroke="#ff0000" stroke-width="2" stroke-linejoin="round" shape-rendering="crispEdges"/>
</g></svg>
<path d="M571.5,630 V617.5 H604.5 V630" fill="#fff" stroke="#000" stroke-width="1"/>
<text x="573" y="627.3" font-family="Liberation Sans, sans-serif" font-size="10" textLength="30" lengthAdjust="spacingAndGlyphs" fill="#000">x10000</text>
<text x="616.2" y="628" text-anchor="end" font-family="Liberation Sans, sans-serif" font-size="12" letter-spacing="0.4" fill="#000">0</text>
</svg>
</body></html>
